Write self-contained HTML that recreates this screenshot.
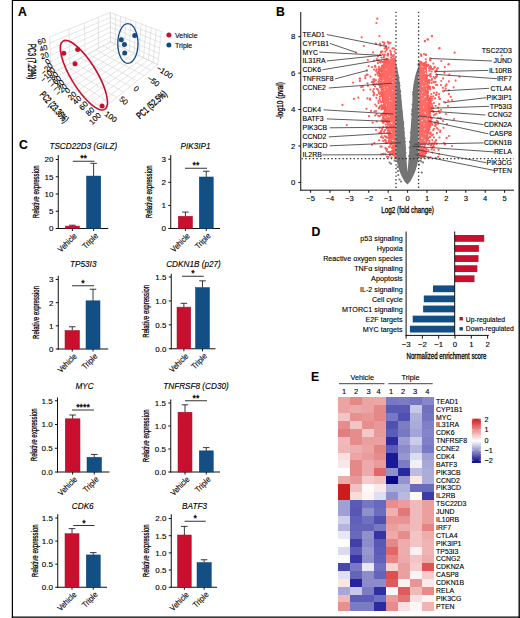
<!DOCTYPE html>
<html><head><meta charset="utf-8"><style>
html,body{margin:0;padding:0;background:#fff;}
svg{display:block;font-family:"Liberation Sans", sans-serif;}
text{stroke:#000;stroke-width:0.12px;}
</style></head><body>
<svg width="520" height="618" viewBox="0 0 520 618">
<path d="M12.4 0 V617.8 M11.8 0.4 H520" fill="none" stroke="#000" stroke-width="1.2"/>
<path d="M519.2 0 V618 M11.8 617.15 H520" fill="none" stroke="#000" stroke-width="1.35"/>
<text x="18.10" y="15.60" font-size="12.2" font-weight="bold">A</text>
<text x="276.00" y="15.70" font-size="12.2" font-weight="bold">B</text>
<text x="19.10" y="149.40" font-size="12.2" font-weight="bold">C</text>
<text x="311.60" y="235.70" font-size="12.2" font-weight="bold">D</text>
<text x="311.00" y="380.50" font-size="12.2" font-weight="bold">E</text>
<text x="83.30" y="148.70" font-size="8.2" text-anchor="middle" font-style="italic">TSCD22D3 (GILZ)</text>
<line x1="58.25" y1="155.00" x2="58.25" y2="229.00" stroke="#111" stroke-width="1"/>
<line x1="55.75" y1="228.50" x2="58.25" y2="228.50" stroke="#111" stroke-width="1"/>
<text x="53.45" y="231.35" font-size="8.0" text-anchor="end">0</text>
<line x1="55.75" y1="211.25" x2="58.25" y2="211.25" stroke="#111" stroke-width="1"/>
<text x="53.45" y="214.10" font-size="8.0" text-anchor="end">5</text>
<line x1="55.75" y1="194.00" x2="58.25" y2="194.00" stroke="#111" stroke-width="1"/>
<text x="53.45" y="196.85" font-size="8.0" text-anchor="end">10</text>
<line x1="55.75" y1="176.75" x2="58.25" y2="176.75" stroke="#111" stroke-width="1"/>
<text x="53.45" y="179.60" font-size="8.0" text-anchor="end">15</text>
<line x1="55.75" y1="159.50" x2="58.25" y2="159.50" stroke="#111" stroke-width="1"/>
<text x="53.45" y="162.35" font-size="8.0" text-anchor="end">20</text>
<line x1="57.75" y1="228.50" x2="108.25" y2="228.50" stroke="#111" stroke-width="1"/>
<line x1="72.38" y1="226.09" x2="72.38" y2="225.22" stroke="#222" stroke-width="0.9"/>
<line x1="69.08" y1="225.22" x2="75.67" y2="225.22" stroke="#222" stroke-width="0.9"/>
<rect x="65.25" y="226.09" width="14.25" height="2.41" fill="#c8102e" stroke="#a80d26" stroke-width="0.5"/>
<line x1="72.38" y1="228.50" x2="72.38" y2="231.00" stroke="#111" stroke-width="1"/>
<line x1="93.62" y1="176.06" x2="93.62" y2="163.30" stroke="#222" stroke-width="0.9"/>
<line x1="90.33" y1="163.30" x2="96.92" y2="163.30" stroke="#222" stroke-width="0.9"/>
<rect x="86.50" y="176.06" width="14.25" height="52.44" fill="#124f85" stroke="#0d4273" stroke-width="0.5"/>
<line x1="93.62" y1="228.50" x2="93.62" y2="231.00" stroke="#111" stroke-width="1"/>
<text x="77.38" y="236.40" font-size="8.2" text-anchor="end" textLength="23" lengthAdjust="spacingAndGlyphs" transform="rotate(-45 77.375 236.4)">Vehicle</text>
<text x="98.62" y="236.40" font-size="8.2" text-anchor="end" textLength="18.5" lengthAdjust="spacingAndGlyphs" transform="rotate(-45 98.625 236.4)">Triple</text>
<line x1="72.75" y1="161.25" x2="94.50" y2="161.25" stroke="#333" stroke-width="1"/>
<text x="83.62" y="161.45" font-size="8.8" text-anchor="middle" style="stroke-width:0.3px">**</text>
<text x="39.00" y="191.75" font-size="9.4" text-anchor="middle" textLength="53" lengthAdjust="spacingAndGlyphs" transform="rotate(-90 39.0 191.75)" style="stroke-width:0.25px">Relative expression</text>
<text x="195.50" y="148.75" font-size="8.2" text-anchor="middle" font-style="italic">PIK3IP1</text>
<line x1="170.75" y1="155.00" x2="170.75" y2="229.00" stroke="#111" stroke-width="1"/>
<line x1="168.25" y1="228.50" x2="170.75" y2="228.50" stroke="#111" stroke-width="1"/>
<text x="165.95" y="231.35" font-size="8.0" text-anchor="end">0</text>
<line x1="168.25" y1="205.40" x2="170.75" y2="205.40" stroke="#111" stroke-width="1"/>
<text x="165.95" y="208.25" font-size="8.0" text-anchor="end">1</text>
<line x1="168.25" y1="182.30" x2="170.75" y2="182.30" stroke="#111" stroke-width="1"/>
<text x="165.95" y="185.15" font-size="8.0" text-anchor="end">2</text>
<line x1="168.25" y1="159.20" x2="170.75" y2="159.20" stroke="#111" stroke-width="1"/>
<text x="165.95" y="162.05" font-size="8.0" text-anchor="end">3</text>
<line x1="170.25" y1="228.50" x2="220.00" y2="228.50" stroke="#111" stroke-width="1"/>
<line x1="185.38" y1="216.26" x2="185.38" y2="212.10" stroke="#222" stroke-width="0.9"/>
<line x1="182.07" y1="212.10" x2="188.68" y2="212.10" stroke="#222" stroke-width="0.9"/>
<rect x="178.25" y="216.26" width="14.25" height="12.24" fill="#c8102e" stroke="#a80d26" stroke-width="0.5"/>
<line x1="185.38" y1="228.50" x2="185.38" y2="231.00" stroke="#111" stroke-width="1"/>
<line x1="206.25" y1="176.99" x2="206.25" y2="171.21" stroke="#222" stroke-width="0.9"/>
<line x1="202.95" y1="171.21" x2="209.55" y2="171.21" stroke="#222" stroke-width="0.9"/>
<rect x="199.25" y="176.99" width="14.00" height="51.51" fill="#124f85" stroke="#0d4273" stroke-width="0.5"/>
<line x1="206.25" y1="228.50" x2="206.25" y2="231.00" stroke="#111" stroke-width="1"/>
<text x="190.38" y="236.40" font-size="8.2" text-anchor="end" textLength="23" lengthAdjust="spacingAndGlyphs" transform="rotate(-45 190.375 236.4)">Vehicle</text>
<text x="211.25" y="236.40" font-size="8.2" text-anchor="end" textLength="18.5" lengthAdjust="spacingAndGlyphs" transform="rotate(-45 211.25 236.4)">Triple</text>
<line x1="185.00" y1="168.25" x2="207.00" y2="168.25" stroke="#333" stroke-width="1"/>
<text x="196.00" y="168.45" font-size="8.8" text-anchor="middle" style="stroke-width:0.3px">**</text>
<text x="152.00" y="191.75" font-size="9.4" text-anchor="middle" textLength="53" lengthAdjust="spacingAndGlyphs" transform="rotate(-90 152.0 191.75)" style="stroke-width:0.25px">Relative expression</text>
<text x="83.25" y="267.00" font-size="8.2" text-anchor="middle" font-style="italic">TP53I3</text>
<line x1="58.25" y1="275.75" x2="58.25" y2="349.50" stroke="#111" stroke-width="1"/>
<line x1="55.75" y1="349.00" x2="58.25" y2="349.00" stroke="#111" stroke-width="1"/>
<text x="53.45" y="351.85" font-size="8.0" text-anchor="end">0</text>
<line x1="55.75" y1="325.83" x2="58.25" y2="325.83" stroke="#111" stroke-width="1"/>
<text x="53.45" y="328.68" font-size="8.0" text-anchor="end">1</text>
<line x1="55.75" y1="302.66" x2="58.25" y2="302.66" stroke="#111" stroke-width="1"/>
<text x="53.45" y="305.51" font-size="8.0" text-anchor="end">2</text>
<line x1="55.75" y1="279.49" x2="58.25" y2="279.49" stroke="#111" stroke-width="1"/>
<text x="53.45" y="282.34" font-size="8.0" text-anchor="end">3</text>
<line x1="57.75" y1="349.00" x2="108.25" y2="349.00" stroke="#111" stroke-width="1"/>
<line x1="72.25" y1="330.46" x2="72.25" y2="326.76" stroke="#222" stroke-width="0.9"/>
<line x1="68.95" y1="326.76" x2="75.55" y2="326.76" stroke="#222" stroke-width="0.9"/>
<rect x="65.00" y="330.46" width="14.50" height="18.54" fill="#c8102e" stroke="#a80d26" stroke-width="0.5"/>
<line x1="72.25" y1="349.00" x2="72.25" y2="351.50" stroke="#111" stroke-width="1"/>
<line x1="93.00" y1="300.81" x2="93.00" y2="289.22" stroke="#222" stroke-width="0.9"/>
<line x1="89.70" y1="289.22" x2="96.30" y2="289.22" stroke="#222" stroke-width="0.9"/>
<rect x="86.00" y="300.81" width="14.00" height="48.19" fill="#124f85" stroke="#0d4273" stroke-width="0.5"/>
<line x1="93.00" y1="349.00" x2="93.00" y2="351.50" stroke="#111" stroke-width="1"/>
<text x="77.25" y="356.90" font-size="8.2" text-anchor="end" textLength="23" lengthAdjust="spacingAndGlyphs" transform="rotate(-45 77.25 356.9)">Vehicle</text>
<text x="98.00" y="356.90" font-size="8.2" text-anchor="end" textLength="18.5" lengthAdjust="spacingAndGlyphs" transform="rotate(-45 98.0 356.9)">Triple</text>
<line x1="72.00" y1="285.75" x2="94.00" y2="285.75" stroke="#333" stroke-width="1"/>
<text x="83.00" y="285.95" font-size="8.8" text-anchor="middle" style="stroke-width:0.3px">*</text>
<text x="39.00" y="312.38" font-size="9.4" text-anchor="middle" textLength="53" lengthAdjust="spacingAndGlyphs" transform="rotate(-90 39.0 312.375)" style="stroke-width:0.25px">Relative expression</text>
<text x="193.50" y="267.00" font-size="8.2" text-anchor="middle" font-style="italic">CDKN1B (p27)</text>
<line x1="171.25" y1="273.75" x2="171.25" y2="349.25" stroke="#111" stroke-width="1"/>
<line x1="168.75" y1="348.75" x2="171.25" y2="348.75" stroke="#111" stroke-width="1"/>
<text x="166.45" y="351.60" font-size="8.0" text-anchor="end">0.0</text>
<line x1="168.75" y1="324.83" x2="171.25" y2="324.83" stroke="#111" stroke-width="1"/>
<text x="166.45" y="327.69" font-size="8.0" text-anchor="end">0.5</text>
<line x1="168.75" y1="300.92" x2="171.25" y2="300.92" stroke="#111" stroke-width="1"/>
<text x="166.45" y="303.77" font-size="8.0" text-anchor="end">1.0</text>
<line x1="168.75" y1="277.00" x2="171.25" y2="277.00" stroke="#111" stroke-width="1"/>
<text x="166.45" y="279.86" font-size="8.0" text-anchor="end">1.5</text>
<line x1="170.75" y1="348.75" x2="215.50" y2="348.75" stroke="#111" stroke-width="1"/>
<line x1="183.88" y1="307.14" x2="183.88" y2="303.31" stroke="#222" stroke-width="0.9"/>
<line x1="180.57" y1="303.31" x2="187.18" y2="303.31" stroke="#222" stroke-width="0.9"/>
<rect x="177.00" y="307.14" width="13.75" height="41.61" fill="#c8102e" stroke="#a80d26" stroke-width="0.5"/>
<line x1="183.88" y1="348.75" x2="183.88" y2="351.25" stroke="#111" stroke-width="1"/>
<line x1="202.50" y1="287.53" x2="202.50" y2="280.83" stroke="#222" stroke-width="0.9"/>
<line x1="199.20" y1="280.83" x2="205.80" y2="280.83" stroke="#222" stroke-width="0.9"/>
<rect x="195.50" y="287.53" width="14.00" height="61.22" fill="#124f85" stroke="#0d4273" stroke-width="0.5"/>
<line x1="202.50" y1="348.75" x2="202.50" y2="351.25" stroke="#111" stroke-width="1"/>
<text x="188.88" y="356.65" font-size="8.2" text-anchor="end" textLength="23" lengthAdjust="spacingAndGlyphs" transform="rotate(-45 188.875 356.65)">Vehicle</text>
<text x="207.50" y="356.65" font-size="8.2" text-anchor="end" textLength="18.5" lengthAdjust="spacingAndGlyphs" transform="rotate(-45 207.5 356.65)">Triple</text>
<line x1="182.00" y1="276.25" x2="203.75" y2="276.25" stroke="#333" stroke-width="1"/>
<text x="192.88" y="276.45" font-size="8.8" text-anchor="middle" style="stroke-width:0.3px">*</text>
<text x="148.80" y="311.25" font-size="9.4" text-anchor="middle" textLength="53" lengthAdjust="spacingAndGlyphs" transform="rotate(-90 148.79999999999998 311.25)" style="stroke-width:0.25px">Relative expression</text>
<text x="84.50" y="388.75" font-size="8.2" text-anchor="middle" font-style="italic">MYC</text>
<line x1="57.50" y1="397.50" x2="57.50" y2="472.50" stroke="#111" stroke-width="1"/>
<line x1="55.00" y1="472.00" x2="57.50" y2="472.00" stroke="#111" stroke-width="1"/>
<text x="52.70" y="474.85" font-size="8.0" text-anchor="end">0.0</text>
<line x1="55.00" y1="448.25" x2="57.50" y2="448.25" stroke="#111" stroke-width="1"/>
<text x="52.70" y="451.10" font-size="8.0" text-anchor="end">0.5</text>
<line x1="55.00" y1="424.50" x2="57.50" y2="424.50" stroke="#111" stroke-width="1"/>
<text x="52.70" y="427.35" font-size="8.0" text-anchor="end">1.0</text>
<line x1="55.00" y1="400.75" x2="57.50" y2="400.75" stroke="#111" stroke-width="1"/>
<text x="52.70" y="403.60" font-size="8.0" text-anchor="end">1.5</text>
<line x1="57.00" y1="472.00" x2="109.50" y2="472.00" stroke="#111" stroke-width="1"/>
<line x1="72.62" y1="418.80" x2="72.62" y2="415.00" stroke="#222" stroke-width="0.9"/>
<line x1="69.33" y1="415.00" x2="75.92" y2="415.00" stroke="#222" stroke-width="0.9"/>
<rect x="65.25" y="418.80" width="14.75" height="53.20" fill="#c8102e" stroke="#a80d26" stroke-width="0.5"/>
<line x1="72.62" y1="472.00" x2="72.62" y2="474.50" stroke="#111" stroke-width="1"/>
<line x1="94.25" y1="457.27" x2="94.25" y2="454.43" stroke="#222" stroke-width="0.9"/>
<line x1="90.95" y1="454.43" x2="97.55" y2="454.43" stroke="#222" stroke-width="0.9"/>
<rect x="87.00" y="457.27" width="14.50" height="14.73" fill="#124f85" stroke="#0d4273" stroke-width="0.5"/>
<line x1="94.25" y1="472.00" x2="94.25" y2="474.50" stroke="#111" stroke-width="1"/>
<text x="77.62" y="479.90" font-size="8.2" text-anchor="end" textLength="23" lengthAdjust="spacingAndGlyphs" transform="rotate(-45 77.625 479.9)">Vehicle</text>
<text x="99.25" y="479.90" font-size="8.2" text-anchor="end" textLength="18.5" lengthAdjust="spacingAndGlyphs" transform="rotate(-45 99.25 479.9)">Triple</text>
<line x1="72.00" y1="410.00" x2="94.00" y2="410.00" stroke="#333" stroke-width="1"/>
<text x="83.00" y="410.20" font-size="8.8" text-anchor="middle" style="stroke-width:0.3px">****</text>
<text x="37.20" y="434.75" font-size="9.4" text-anchor="middle" textLength="53" lengthAdjust="spacingAndGlyphs" transform="rotate(-90 37.2 434.75)" style="stroke-width:0.25px">Relative expression</text>
<text x="196.00" y="388.75" font-size="8.2" text-anchor="middle" font-style="italic">TNFRSF8 (CD30)</text>
<line x1="170.75" y1="399.50" x2="170.75" y2="472.50" stroke="#111" stroke-width="1"/>
<line x1="168.25" y1="472.00" x2="170.75" y2="472.00" stroke="#111" stroke-width="1"/>
<text x="165.95" y="474.85" font-size="8.0" text-anchor="end">0.0</text>
<line x1="168.25" y1="449.00" x2="170.75" y2="449.00" stroke="#111" stroke-width="1"/>
<text x="165.95" y="451.85" font-size="8.0" text-anchor="end">0.5</text>
<line x1="168.25" y1="426.00" x2="170.75" y2="426.00" stroke="#111" stroke-width="1"/>
<text x="165.95" y="428.85" font-size="8.0" text-anchor="end">1.0</text>
<line x1="168.25" y1="403.00" x2="170.75" y2="403.00" stroke="#111" stroke-width="1"/>
<text x="165.95" y="405.85" font-size="8.0" text-anchor="end">1.5</text>
<line x1="170.25" y1="472.00" x2="220.00" y2="472.00" stroke="#111" stroke-width="1"/>
<line x1="185.00" y1="412.20" x2="185.00" y2="404.84" stroke="#222" stroke-width="0.9"/>
<line x1="181.70" y1="404.84" x2="188.30" y2="404.84" stroke="#222" stroke-width="0.9"/>
<rect x="178.00" y="412.20" width="14.00" height="59.80" fill="#c8102e" stroke="#a80d26" stroke-width="0.5"/>
<line x1="185.00" y1="472.00" x2="185.00" y2="474.50" stroke="#111" stroke-width="1"/>
<line x1="206.25" y1="450.84" x2="206.25" y2="447.62" stroke="#222" stroke-width="0.9"/>
<line x1="202.95" y1="447.62" x2="209.55" y2="447.62" stroke="#222" stroke-width="0.9"/>
<rect x="199.25" y="450.84" width="14.00" height="21.16" fill="#124f85" stroke="#0d4273" stroke-width="0.5"/>
<line x1="206.25" y1="472.00" x2="206.25" y2="474.50" stroke="#111" stroke-width="1"/>
<text x="190.00" y="479.90" font-size="8.2" text-anchor="end" textLength="23" lengthAdjust="spacingAndGlyphs" transform="rotate(-45 190.0 479.9)">Vehicle</text>
<text x="211.25" y="479.90" font-size="8.2" text-anchor="end" textLength="18.5" lengthAdjust="spacingAndGlyphs" transform="rotate(-45 211.25 479.9)">Triple</text>
<line x1="185.00" y1="400.75" x2="207.00" y2="400.75" stroke="#333" stroke-width="1"/>
<text x="196.00" y="400.95" font-size="8.8" text-anchor="middle" style="stroke-width:0.3px">**</text>
<text x="148.80" y="435.75" font-size="9.4" text-anchor="middle" textLength="53" lengthAdjust="spacingAndGlyphs" transform="rotate(-90 148.79999999999998 435.75)" style="stroke-width:0.25px">Relative expression</text>
<text x="82.75" y="509.25" font-size="8.2" text-anchor="middle" font-style="italic">CDK6</text>
<line x1="57.75" y1="514.25" x2="57.75" y2="587.75" stroke="#111" stroke-width="1"/>
<line x1="55.25" y1="587.25" x2="57.75" y2="587.25" stroke="#111" stroke-width="1"/>
<text x="52.95" y="590.10" font-size="8.0" text-anchor="end">0.0</text>
<line x1="55.25" y1="564.16" x2="57.75" y2="564.16" stroke="#111" stroke-width="1"/>
<text x="52.95" y="567.01" font-size="8.0" text-anchor="end">0.5</text>
<line x1="55.25" y1="541.08" x2="57.75" y2="541.08" stroke="#111" stroke-width="1"/>
<text x="52.95" y="543.93" font-size="8.0" text-anchor="end">1.0</text>
<line x1="55.25" y1="518.00" x2="57.75" y2="518.00" stroke="#111" stroke-width="1"/>
<text x="52.95" y="520.85" font-size="8.0" text-anchor="end">1.5</text>
<line x1="57.25" y1="587.25" x2="107.00" y2="587.25" stroke="#111" stroke-width="1"/>
<line x1="72.00" y1="533.69" x2="72.00" y2="528.61" stroke="#222" stroke-width="0.9"/>
<line x1="68.70" y1="528.61" x2="75.30" y2="528.61" stroke="#222" stroke-width="0.9"/>
<rect x="65.00" y="533.69" width="14.00" height="53.56" fill="#c8102e" stroke="#a80d26" stroke-width="0.5"/>
<line x1="72.00" y1="587.25" x2="72.00" y2="589.75" stroke="#111" stroke-width="1"/>
<line x1="93.25" y1="554.93" x2="93.25" y2="552.62" stroke="#222" stroke-width="0.9"/>
<line x1="89.95" y1="552.62" x2="96.55" y2="552.62" stroke="#222" stroke-width="0.9"/>
<rect x="86.25" y="554.93" width="14.00" height="32.32" fill="#124f85" stroke="#0d4273" stroke-width="0.5"/>
<line x1="93.25" y1="587.25" x2="93.25" y2="589.75" stroke="#111" stroke-width="1"/>
<text x="77.00" y="595.15" font-size="8.2" text-anchor="end" textLength="23" lengthAdjust="spacingAndGlyphs" transform="rotate(-45 77.0 595.15)">Vehicle</text>
<text x="98.25" y="595.15" font-size="8.2" text-anchor="end" textLength="18.5" lengthAdjust="spacingAndGlyphs" transform="rotate(-45 98.25 595.15)">Triple</text>
<line x1="73.25" y1="525.50" x2="94.50" y2="525.50" stroke="#333" stroke-width="1"/>
<text x="83.88" y="525.70" font-size="8.8" text-anchor="middle" style="stroke-width:0.3px">*</text>
<text x="37.50" y="550.75" font-size="9.4" text-anchor="middle" textLength="53" lengthAdjust="spacingAndGlyphs" transform="rotate(-90 37.5 550.75)" style="stroke-width:0.25px">Relative expression</text>
<text x="194.50" y="509.25" font-size="8.2" text-anchor="middle" font-style="italic">BATF3</text>
<line x1="171.25" y1="514.25" x2="171.25" y2="587.75" stroke="#111" stroke-width="1"/>
<line x1="168.75" y1="587.25" x2="171.25" y2="587.25" stroke="#111" stroke-width="1"/>
<text x="166.45" y="590.10" font-size="8.0" text-anchor="end">0.0</text>
<line x1="168.75" y1="570.06" x2="171.25" y2="570.06" stroke="#111" stroke-width="1"/>
<text x="166.45" y="572.91" font-size="8.0" text-anchor="end">0.5</text>
<line x1="168.75" y1="552.88" x2="171.25" y2="552.88" stroke="#111" stroke-width="1"/>
<text x="166.45" y="555.73" font-size="8.0" text-anchor="end">1.0</text>
<line x1="168.75" y1="535.69" x2="171.25" y2="535.69" stroke="#111" stroke-width="1"/>
<text x="166.45" y="538.54" font-size="8.0" text-anchor="end">1.5</text>
<line x1="168.75" y1="518.50" x2="171.25" y2="518.50" stroke="#111" stroke-width="1"/>
<text x="166.45" y="521.35" font-size="8.0" text-anchor="end">2.0</text>
<line x1="170.75" y1="587.25" x2="217.00" y2="587.25" stroke="#111" stroke-width="1"/>
<line x1="184.38" y1="535.00" x2="184.38" y2="526.41" stroke="#222" stroke-width="0.9"/>
<line x1="181.07" y1="526.41" x2="187.68" y2="526.41" stroke="#222" stroke-width="0.9"/>
<rect x="177.50" y="535.00" width="13.75" height="52.25" fill="#c8102e" stroke="#a80d26" stroke-width="0.5"/>
<line x1="184.38" y1="587.25" x2="184.38" y2="589.75" stroke="#111" stroke-width="1"/>
<line x1="204.12" y1="562.50" x2="204.12" y2="559.75" stroke="#222" stroke-width="0.9"/>
<line x1="200.82" y1="559.75" x2="207.43" y2="559.75" stroke="#222" stroke-width="0.9"/>
<rect x="197.00" y="562.50" width="14.25" height="24.75" fill="#124f85" stroke="#0d4273" stroke-width="0.5"/>
<line x1="204.12" y1="587.25" x2="204.12" y2="589.75" stroke="#111" stroke-width="1"/>
<text x="189.38" y="595.15" font-size="8.2" text-anchor="end" textLength="23" lengthAdjust="spacingAndGlyphs" transform="rotate(-45 189.375 595.15)">Vehicle</text>
<text x="209.12" y="595.15" font-size="8.2" text-anchor="end" textLength="18.5" lengthAdjust="spacingAndGlyphs" transform="rotate(-45 209.125 595.15)">Triple</text>
<line x1="184.50" y1="521.25" x2="205.75" y2="521.25" stroke="#333" stroke-width="1"/>
<text x="195.12" y="521.45" font-size="8.8" text-anchor="middle" style="stroke-width:0.3px">*</text>
<text x="148.80" y="550.75" font-size="9.4" text-anchor="middle" textLength="53" lengthAdjust="spacingAndGlyphs" transform="rotate(-90 148.79999999999998 550.75)" style="stroke-width:0.25px">Relative expression</text>
<rect x="454.70" y="235.00" width="29.50" height="6.80" fill="#c8102e"/>
<text x="402.70" y="241.10" font-size="7.2" text-anchor="end">p53 signaling</text>
<rect x="454.70" y="245.08" width="24.20" height="6.80" fill="#c8102e"/>
<text x="402.70" y="251.18" font-size="7.2" text-anchor="end">Hypoxia</text>
<rect x="454.70" y="255.16" width="23.80" height="6.80" fill="#c8102e"/>
<text x="402.70" y="261.26" font-size="7.2" text-anchor="end">Reactive oxygen species</text>
<rect x="454.70" y="265.24" width="22.60" height="6.80" fill="#c8102e"/>
<text x="402.70" y="271.34" font-size="7.2" text-anchor="end">TNFα signaling</text>
<rect x="454.70" y="275.32" width="19.80" height="6.80" fill="#c8102e"/>
<text x="402.70" y="281.42" font-size="7.2" text-anchor="end">Apoptosis</text>
<rect x="433.00" y="285.40" width="21.70" height="6.80" fill="#124f85"/>
<text x="402.70" y="291.50" font-size="7.2" text-anchor="end">IL-2 signaling</text>
<rect x="423.80" y="295.48" width="30.90" height="6.80" fill="#124f85"/>
<text x="402.70" y="301.58" font-size="7.2" text-anchor="end">Cell cycle</text>
<rect x="423.10" y="305.56" width="31.60" height="6.80" fill="#124f85"/>
<text x="402.70" y="311.66" font-size="7.2" text-anchor="end">MTORC1 signaling</text>
<rect x="412.70" y="315.64" width="42.00" height="6.80" fill="#124f85"/>
<text x="402.70" y="321.74" font-size="7.2" text-anchor="end">E2F targets</text>
<rect x="409.90" y="325.72" width="44.80" height="6.80" fill="#124f85"/>
<text x="402.70" y="331.82" font-size="7.2" text-anchor="end">MYC targets</text>
<line x1="406.10" y1="231.50" x2="406.10" y2="335.90" stroke="#111" stroke-width="1"/>
<line x1="454.70" y1="231.50" x2="454.70" y2="335.90" stroke="#111" stroke-width="1"/>
<line x1="405.60" y1="335.40" x2="488.80" y2="335.40" stroke="#111" stroke-width="1"/>
<line x1="406.10" y1="335.40" x2="406.10" y2="338.60" stroke="#111" stroke-width="1"/>
<text x="406.10" y="346.90" font-size="7.8" text-anchor="middle">−3</text>
<line x1="422.40" y1="335.40" x2="422.40" y2="338.60" stroke="#111" stroke-width="1"/>
<text x="422.40" y="346.90" font-size="7.8" text-anchor="middle">−2</text>
<line x1="438.70" y1="335.40" x2="438.70" y2="338.60" stroke="#111" stroke-width="1"/>
<text x="438.70" y="346.90" font-size="7.8" text-anchor="middle">−1</text>
<line x1="455.00" y1="335.40" x2="455.00" y2="338.60" stroke="#111" stroke-width="1"/>
<text x="455.00" y="346.90" font-size="7.8" text-anchor="middle">0</text>
<line x1="471.30" y1="335.40" x2="471.30" y2="338.60" stroke="#111" stroke-width="1"/>
<text x="471.30" y="346.90" font-size="7.8" text-anchor="middle">1</text>
<line x1="487.60" y1="335.40" x2="487.60" y2="338.60" stroke="#111" stroke-width="1"/>
<text x="487.60" y="346.90" font-size="7.8" text-anchor="middle">2</text>
<text x="446.50" y="358.60" font-size="8.8" text-anchor="middle" textLength="80" lengthAdjust="spacingAndGlyphs" style="stroke-width:0.3px">Normalized enrichment score</text>
<rect x="459.50" y="317.00" width="3.40" height="3.40" fill="#c8102e"/>
<rect x="459.50" y="327.10" width="3.40" height="3.40" fill="#124f85"/>
<text x="465.80" y="321.50" font-size="6.8">Up-regulated</text>
<text x="465.80" y="331.40" font-size="6.8">Down-regulated</text>
<g shape-rendering="crispEdges">
<rect x="338.00" y="397.400" width="12.30" height="8.185" fill="#eba4a4"/>
<rect x="350.00" y="397.400" width="12.30" height="8.185" fill="#e58888"/>
<rect x="362.00" y="397.400" width="12.30" height="8.185" fill="#eba4a4"/>
<rect x="374.00" y="397.400" width="12.30" height="8.185" fill="#eca6a6"/>
<rect x="386.00" y="397.400" width="12.30" height="8.185" fill="#7878c4"/>
<rect x="398.00" y="397.400" width="12.30" height="8.185" fill="#7c7cc4"/>
<rect x="410.00" y="397.400" width="12.30" height="8.185" fill="#7474c0"/>
<rect x="422.00" y="397.400" width="12.30" height="8.185" fill="#8686c8"/>
<rect x="338.00" y="405.285" width="12.30" height="8.185" fill="#eba3a3"/>
<rect x="350.00" y="405.285" width="12.30" height="8.185" fill="#edaaaa"/>
<rect x="362.00" y="405.285" width="12.30" height="8.185" fill="#eba3a3"/>
<rect x="374.00" y="405.285" width="12.30" height="8.185" fill="#e48888"/>
<rect x="386.00" y="405.285" width="12.30" height="8.185" fill="#5a5ab4"/>
<rect x="398.00" y="405.285" width="12.30" height="8.185" fill="#5a5ab4"/>
<rect x="410.00" y="405.285" width="12.30" height="8.185" fill="#c8c8e6"/>
<rect x="422.00" y="405.285" width="12.30" height="8.185" fill="#7070c0"/>
<rect x="338.00" y="413.170" width="12.30" height="8.185" fill="#f2c4c4"/>
<rect x="350.00" y="413.170" width="12.30" height="8.185" fill="#e69090"/>
<rect x="362.00" y="413.170" width="12.30" height="8.185" fill="#e89898"/>
<rect x="374.00" y="413.170" width="12.30" height="8.185" fill="#e48888"/>
<rect x="386.00" y="413.170" width="12.30" height="8.185" fill="#7878c4"/>
<rect x="398.00" y="413.170" width="12.30" height="8.185" fill="#5050b0"/>
<rect x="410.00" y="413.170" width="12.30" height="8.185" fill="#b0b0dc"/>
<rect x="422.00" y="413.170" width="12.30" height="8.185" fill="#7474c0"/>
<rect x="338.00" y="421.055" width="12.30" height="8.185" fill="#e68e8e"/>
<rect x="350.00" y="421.055" width="12.30" height="8.185" fill="#f2c4c4"/>
<rect x="362.00" y="421.055" width="12.30" height="8.185" fill="#e68e8e"/>
<rect x="374.00" y="421.055" width="12.30" height="8.185" fill="#e89898"/>
<rect x="386.00" y="421.055" width="12.30" height="8.185" fill="#5050b0"/>
<rect x="398.00" y="421.055" width="12.30" height="8.185" fill="#7c7cc4"/>
<rect x="410.00" y="421.055" width="12.30" height="8.185" fill="#acacdc"/>
<rect x="422.00" y="421.055" width="12.30" height="8.185" fill="#8080c8"/>
<rect x="338.00" y="428.940" width="12.30" height="8.185" fill="#e27e7e"/>
<rect x="350.00" y="428.940" width="12.30" height="8.185" fill="#e68c8c"/>
<rect x="362.00" y="428.940" width="12.30" height="8.185" fill="#f2c8c8"/>
<rect x="374.00" y="428.940" width="12.30" height="8.185" fill="#e89a9a"/>
<rect x="386.00" y="428.940" width="12.30" height="8.185" fill="#5c5cb8"/>
<rect x="398.00" y="428.940" width="12.30" height="8.185" fill="#7878c0"/>
<rect x="410.00" y="428.940" width="12.30" height="8.185" fill="#a4a4d8"/>
<rect x="422.00" y="428.940" width="12.30" height="8.185" fill="#8484c8"/>
<rect x="338.00" y="436.825" width="12.30" height="8.185" fill="#f0b8b8"/>
<rect x="350.00" y="436.825" width="12.30" height="8.185" fill="#e58c8c"/>
<rect x="362.00" y="436.825" width="12.30" height="8.185" fill="#eaa0a0"/>
<rect x="374.00" y="436.825" width="12.30" height="8.185" fill="#eaa0a0"/>
<rect x="386.00" y="436.825" width="12.30" height="8.185" fill="#2c2ca0"/>
<rect x="398.00" y="436.825" width="12.30" height="8.185" fill="#9c9cd4"/>
<rect x="410.00" y="436.825" width="12.30" height="8.185" fill="#ccccea"/>
<rect x="422.00" y="436.825" width="12.30" height="8.185" fill="#8080c8"/>
<rect x="338.00" y="444.710" width="12.30" height="8.185" fill="#f0b5b5"/>
<rect x="350.00" y="444.710" width="12.30" height="8.185" fill="#edaeae"/>
<rect x="362.00" y="444.710" width="12.30" height="8.185" fill="#eba4a4"/>
<rect x="374.00" y="444.710" width="12.30" height="8.185" fill="#e48585"/>
<rect x="386.00" y="444.710" width="12.30" height="8.185" fill="#5a5ab8"/>
<rect x="398.00" y="444.710" width="12.30" height="8.185" fill="#8c8ccc"/>
<rect x="410.00" y="444.710" width="12.30" height="8.185" fill="#b4b4dc"/>
<rect x="422.00" y="444.710" width="12.30" height="8.185" fill="#7878c4"/>
<rect x="338.00" y="452.595" width="12.30" height="8.185" fill="#f8e0e0"/>
<rect x="350.00" y="452.595" width="12.30" height="8.185" fill="#eca4a4"/>
<rect x="362.00" y="452.595" width="12.30" height="8.185" fill="#e99c9c"/>
<rect x="374.00" y="452.595" width="12.30" height="8.185" fill="#e58c8c"/>
<rect x="386.00" y="452.595" width="12.30" height="8.185" fill="#1a1a98"/>
<rect x="398.00" y="452.595" width="12.30" height="8.185" fill="#9898d0"/>
<rect x="410.00" y="452.595" width="12.30" height="8.185" fill="#dcdcf0"/>
<rect x="422.00" y="452.595" width="12.30" height="8.185" fill="#a0a0d4"/>
<rect x="338.00" y="460.480" width="12.30" height="8.185" fill="#fae8e8"/>
<rect x="350.00" y="460.480" width="12.30" height="8.185" fill="#e48888"/>
<rect x="362.00" y="460.480" width="12.30" height="8.185" fill="#eeaaaa"/>
<rect x="374.00" y="460.480" width="12.30" height="8.185" fill="#e99c9c"/>
<rect x="386.00" y="460.480" width="12.30" height="8.185" fill="#1a1a98"/>
<rect x="398.00" y="460.480" width="12.30" height="8.185" fill="#7c7cc4"/>
<rect x="410.00" y="460.480" width="12.30" height="8.185" fill="#f0f0f8"/>
<rect x="422.00" y="460.480" width="12.30" height="8.185" fill="#a8a8d8"/>
<rect x="338.00" y="468.365" width="12.30" height="8.185" fill="#ffffff"/>
<rect x="350.00" y="468.365" width="12.30" height="8.185" fill="#e48888"/>
<rect x="362.00" y="468.365" width="12.30" height="8.185" fill="#eeaaaa"/>
<rect x="374.00" y="468.365" width="12.30" height="8.185" fill="#e06868"/>
<rect x="386.00" y="468.365" width="12.30" height="8.185" fill="#9090cc"/>
<rect x="398.00" y="468.365" width="12.30" height="8.185" fill="#2828a0"/>
<rect x="410.00" y="468.365" width="12.30" height="8.185" fill="#bcbce0"/>
<rect x="422.00" y="468.365" width="12.30" height="8.185" fill="#acacd8"/>
<rect x="338.00" y="476.250" width="12.30" height="8.185" fill="#ecaaaa"/>
<rect x="350.00" y="476.250" width="12.30" height="8.185" fill="#e89a9a"/>
<rect x="362.00" y="476.250" width="12.30" height="8.185" fill="#f4caca"/>
<rect x="374.00" y="476.250" width="12.30" height="8.185" fill="#f2c0c0"/>
<rect x="386.00" y="476.250" width="12.30" height="8.185" fill="#080888"/>
<rect x="398.00" y="476.250" width="12.30" height="8.185" fill="#9494cc"/>
<rect x="410.00" y="476.250" width="12.30" height="8.185" fill="#fce8e0"/>
<rect x="422.00" y="476.250" width="12.30" height="8.185" fill="#acacd8"/>
<rect x="338.00" y="484.135" width="12.30" height="8.185" fill="#cc1c1c"/>
<rect x="350.00" y="484.135" width="12.30" height="8.185" fill="#f2c0c0"/>
<rect x="362.00" y="484.135" width="12.30" height="8.185" fill="#fffafa"/>
<rect x="374.00" y="484.135" width="12.30" height="8.185" fill="#fce8e8"/>
<rect x="386.00" y="484.135" width="12.30" height="8.185" fill="#b0b0dc"/>
<rect x="398.00" y="484.135" width="12.30" height="8.185" fill="#b0b0dc"/>
<rect x="410.00" y="484.135" width="12.30" height="8.185" fill="#6a6abc"/>
<rect x="422.00" y="484.135" width="12.30" height="8.185" fill="#6a6abc"/>
<rect x="338.00" y="492.020" width="12.30" height="8.185" fill="#cc1c1c"/>
<rect x="350.00" y="492.020" width="12.30" height="8.185" fill="#f8dcdc"/>
<rect x="362.00" y="492.020" width="12.30" height="8.185" fill="#fff4f4"/>
<rect x="374.00" y="492.020" width="12.30" height="8.185" fill="#dcdff2"/>
<rect x="386.00" y="492.020" width="12.30" height="8.185" fill="#9090cc"/>
<rect x="398.00" y="492.020" width="12.30" height="8.185" fill="#b8b8e0"/>
<rect x="410.00" y="492.020" width="12.30" height="8.185" fill="#fffafa"/>
<rect x="422.00" y="492.020" width="12.30" height="8.185" fill="#3a3aa8"/>
<rect x="338.00" y="499.905" width="12.30" height="8.185" fill="#a0a0d4"/>
<rect x="350.00" y="499.905" width="12.30" height="8.185" fill="#5a5ab8"/>
<rect x="362.00" y="499.905" width="12.30" height="8.185" fill="#7676c2"/>
<rect x="374.00" y="499.905" width="12.30" height="8.185" fill="#6868bc"/>
<rect x="386.00" y="499.905" width="12.30" height="8.185" fill="#e88e8e"/>
<rect x="398.00" y="499.905" width="12.30" height="8.185" fill="#eb9c9c"/>
<rect x="410.00" y="499.905" width="12.30" height="8.185" fill="#f0baba"/>
<rect x="422.00" y="499.905" width="12.30" height="8.185" fill="#eba0a0"/>
<rect x="338.00" y="507.790" width="12.30" height="8.185" fill="#a0a0d4"/>
<rect x="350.00" y="507.790" width="12.30" height="8.185" fill="#5858b4"/>
<rect x="362.00" y="507.790" width="12.30" height="8.185" fill="#9090cc"/>
<rect x="374.00" y="507.790" width="12.30" height="8.185" fill="#6c6cbc"/>
<rect x="386.00" y="507.790" width="12.30" height="8.185" fill="#eeb0b0"/>
<rect x="398.00" y="507.790" width="12.30" height="8.185" fill="#e27878"/>
<rect x="410.00" y="507.790" width="12.30" height="8.185" fill="#f0baba"/>
<rect x="422.00" y="507.790" width="12.30" height="8.185" fill="#eaa0a0"/>
<rect x="338.00" y="515.675" width="12.30" height="8.185" fill="#d0d0ea"/>
<rect x="350.00" y="515.675" width="12.30" height="8.185" fill="#6060b8"/>
<rect x="362.00" y="515.675" width="12.30" height="8.185" fill="#7070c0"/>
<rect x="374.00" y="515.675" width="12.30" height="8.185" fill="#5050b0"/>
<rect x="386.00" y="515.675" width="12.30" height="8.185" fill="#e89494"/>
<rect x="398.00" y="515.675" width="12.30" height="8.185" fill="#e89494"/>
<rect x="410.00" y="515.675" width="12.30" height="8.185" fill="#f0baba"/>
<rect x="422.00" y="515.675" width="12.30" height="8.185" fill="#eba0a0"/>
<rect x="338.00" y="523.560" width="12.30" height="8.185" fill="#b4b4dc"/>
<rect x="350.00" y="523.560" width="12.30" height="8.185" fill="#6464b8"/>
<rect x="362.00" y="523.560" width="12.30" height="8.185" fill="#6464b8"/>
<rect x="374.00" y="523.560" width="12.30" height="8.185" fill="#7878c4"/>
<rect x="386.00" y="523.560" width="12.30" height="8.185" fill="#eba0a0"/>
<rect x="398.00" y="523.560" width="12.30" height="8.185" fill="#eeacac"/>
<rect x="410.00" y="523.560" width="12.30" height="8.185" fill="#f0baba"/>
<rect x="422.00" y="523.560" width="12.30" height="8.185" fill="#e48484"/>
<rect x="338.00" y="531.445" width="12.30" height="8.185" fill="#e8e8f4"/>
<rect x="350.00" y="531.445" width="12.30" height="8.185" fill="#6868bc"/>
<rect x="362.00" y="531.445" width="12.30" height="8.185" fill="#9090cc"/>
<rect x="374.00" y="531.445" width="12.30" height="8.185" fill="#3434a4"/>
<rect x="386.00" y="531.445" width="12.30" height="8.185" fill="#eeaaaa"/>
<rect x="398.00" y="531.445" width="12.30" height="8.185" fill="#e68c8c"/>
<rect x="410.00" y="531.445" width="12.30" height="8.185" fill="#f2c4c4"/>
<rect x="422.00" y="531.445" width="12.30" height="8.185" fill="#eeacac"/>
<rect x="338.00" y="539.330" width="12.30" height="8.185" fill="#fefefe"/>
<rect x="350.00" y="539.330" width="12.30" height="8.185" fill="#4040a8"/>
<rect x="362.00" y="539.330" width="12.30" height="8.185" fill="#8c8ccc"/>
<rect x="374.00" y="539.330" width="12.30" height="8.185" fill="#5858b4"/>
<rect x="386.00" y="539.330" width="12.30" height="8.185" fill="#e48888"/>
<rect x="398.00" y="539.330" width="12.30" height="8.185" fill="#eeacac"/>
<rect x="410.00" y="539.330" width="12.30" height="8.185" fill="#f2c4c4"/>
<rect x="422.00" y="539.330" width="12.30" height="8.185" fill="#f0b4b4"/>
<rect x="338.00" y="547.215" width="12.30" height="8.185" fill="#dadaf0"/>
<rect x="350.00" y="547.215" width="12.30" height="8.185" fill="#5c5cb8"/>
<rect x="362.00" y="547.215" width="12.30" height="8.185" fill="#9898d0"/>
<rect x="374.00" y="547.215" width="12.30" height="8.185" fill="#5c5cb8"/>
<rect x="386.00" y="547.215" width="12.30" height="8.185" fill="#e06868"/>
<rect x="398.00" y="547.215" width="12.30" height="8.185" fill="#eeacac"/>
<rect x="410.00" y="547.215" width="12.30" height="8.185" fill="#fcf0f0"/>
<rect x="422.00" y="547.215" width="12.30" height="8.185" fill="#f0b4b4"/>
<rect x="338.00" y="555.100" width="12.30" height="8.185" fill="#fafafe"/>
<rect x="350.00" y="555.100" width="12.30" height="8.185" fill="#3636a6"/>
<rect x="362.00" y="555.100" width="12.30" height="8.185" fill="#9090cc"/>
<rect x="374.00" y="555.100" width="12.30" height="8.185" fill="#6060b8"/>
<rect x="386.00" y="555.100" width="12.30" height="8.185" fill="#e68484"/>
<rect x="398.00" y="555.100" width="12.30" height="8.185" fill="#eeaaaa"/>
<rect x="410.00" y="555.100" width="12.30" height="8.185" fill="#f2c4c4"/>
<rect x="422.00" y="555.100" width="12.30" height="8.185" fill="#eeacac"/>
<rect x="338.00" y="562.985" width="12.30" height="8.185" fill="#4848ac"/>
<rect x="350.00" y="562.985" width="12.30" height="8.185" fill="#7878c4"/>
<rect x="362.00" y="562.985" width="12.30" height="8.185" fill="#e8e8f4"/>
<rect x="374.00" y="562.985" width="12.30" height="8.185" fill="#7070c0"/>
<rect x="386.00" y="562.985" width="12.30" height="8.185" fill="#f6d4d4"/>
<rect x="398.00" y="562.985" width="12.30" height="8.185" fill="#eba0a0"/>
<rect x="410.00" y="562.985" width="12.30" height="8.185" fill="#f4cccc"/>
<rect x="422.00" y="562.985" width="12.30" height="8.185" fill="#dc5454"/>
<rect x="338.00" y="570.870" width="12.30" height="8.185" fill="#e0e0f2"/>
<rect x="350.00" y="570.870" width="12.30" height="8.185" fill="#6464b8"/>
<rect x="362.00" y="570.870" width="12.30" height="8.185" fill="#8c8ccc"/>
<rect x="374.00" y="570.870" width="12.30" height="8.185" fill="#6464b8"/>
<rect x="386.00" y="570.870" width="12.30" height="8.185" fill="#dc5050"/>
<rect x="398.00" y="570.870" width="12.30" height="8.185" fill="#eba0a0"/>
<rect x="410.00" y="570.870" width="12.30" height="8.185" fill="#fcf4f4"/>
<rect x="422.00" y="570.870" width="12.30" height="8.185" fill="#f4cccc"/>
<rect x="338.00" y="578.755" width="12.30" height="8.185" fill="#fce6e0"/>
<rect x="350.00" y="578.755" width="12.30" height="8.185" fill="#2424a0"/>
<rect x="362.00" y="578.755" width="12.30" height="8.185" fill="#8c8ccc"/>
<rect x="374.00" y="578.755" width="12.30" height="8.185" fill="#8c8ccc"/>
<rect x="386.00" y="578.755" width="12.30" height="8.185" fill="#de5c5c"/>
<rect x="398.00" y="578.755" width="12.30" height="8.185" fill="#fcf0f0"/>
<rect x="410.00" y="578.755" width="12.30" height="8.185" fill="#e89494"/>
<rect x="422.00" y="578.755" width="12.30" height="8.185" fill="#fceaea"/>
<rect x="338.00" y="586.640" width="12.30" height="8.185" fill="#a8a8d8"/>
<rect x="350.00" y="586.640" width="12.30" height="8.185" fill="#c8c8e6"/>
<rect x="362.00" y="586.640" width="12.30" height="8.185" fill="#7c7cc4"/>
<rect x="374.00" y="586.640" width="12.30" height="8.185" fill="#3030a4"/>
<rect x="386.00" y="586.640" width="12.30" height="8.185" fill="#f8f8fe"/>
<rect x="398.00" y="586.640" width="12.30" height="8.185" fill="#de5c5c"/>
<rect x="410.00" y="586.640" width="12.30" height="8.185" fill="#f0baba"/>
<rect x="422.00" y="586.640" width="12.30" height="8.185" fill="#e68a8a"/>
<rect x="338.00" y="594.525" width="12.30" height="8.185" fill="#f0b8b8"/>
<rect x="350.00" y="594.525" width="12.30" height="8.185" fill="#5c5cb8"/>
<rect x="362.00" y="594.525" width="12.30" height="8.185" fill="#5c5cb8"/>
<rect x="374.00" y="594.525" width="12.30" height="8.185" fill="#7070c0"/>
<rect x="386.00" y="594.525" width="12.30" height="8.185" fill="#ea9c9c"/>
<rect x="398.00" y="594.525" width="12.30" height="8.185" fill="#e27474"/>
<rect x="410.00" y="594.525" width="12.30" height="8.185" fill="#f8e0e0"/>
<rect x="422.00" y="594.525" width="12.30" height="8.185" fill="#fcf4f4"/>
<rect x="338.00" y="602.410" width="12.30" height="8.185" fill="#e89090"/>
<rect x="350.00" y="602.410" width="12.30" height="8.185" fill="#7c7cc4"/>
<rect x="362.00" y="602.410" width="12.30" height="8.185" fill="#7c7cc4"/>
<rect x="374.00" y="602.410" width="12.30" height="8.185" fill="#2c2ca0"/>
<rect x="386.00" y="602.410" width="12.30" height="8.185" fill="#e68c8c"/>
<rect x="398.00" y="602.410" width="12.30" height="8.185" fill="#f8e0e0"/>
<rect x="410.00" y="602.410" width="12.30" height="8.185" fill="#fcf6f6"/>
<rect x="422.00" y="602.410" width="12.30" height="8.185" fill="#f0b4b4"/>
</g>
<text x="436.10" y="403.74" font-size="6.9">TEAD1</text>
<text x="436.10" y="411.63" font-size="6.9">CYP1B1</text>
<text x="436.10" y="419.51" font-size="6.9">MYC</text>
<text x="436.10" y="427.40" font-size="6.9">IL31RA</text>
<text x="436.10" y="435.28" font-size="6.9">CDK6</text>
<text x="436.10" y="443.17" font-size="6.9">TNFRSF8</text>
<text x="436.10" y="451.05" font-size="6.9">CCNE2</text>
<text x="436.10" y="458.94" font-size="6.9">CDK4</text>
<text x="436.10" y="466.82" font-size="6.9">BATF3</text>
<text x="436.10" y="474.71" font-size="6.9">PIK3CB</text>
<text x="436.10" y="482.59" font-size="6.9">CCND2</text>
<text x="436.10" y="490.48" font-size="6.9">PIK3CD</text>
<text x="436.10" y="498.36" font-size="6.9">IL2RB</text>
<text x="436.10" y="506.25" font-size="6.9">TSC22D3</text>
<text x="436.10" y="514.13" font-size="6.9">JUND</text>
<text x="436.10" y="522.02" font-size="6.9">IL10RB</text>
<text x="436.10" y="529.90" font-size="6.9">IRF7</text>
<text x="436.10" y="537.79" font-size="6.9">CTLA4</text>
<text x="436.10" y="545.67" font-size="6.9">PIK3IP1</text>
<text x="436.10" y="553.56" font-size="6.9">TP53I3</text>
<text x="436.10" y="561.44" font-size="6.9">CCNG2</text>
<text x="436.10" y="569.33" font-size="6.9">CDKN2A</text>
<text x="436.10" y="577.21" font-size="6.9">CASP8</text>
<text x="436.10" y="585.10" font-size="6.9">CDKN1B</text>
<text x="436.10" y="592.98" font-size="6.9">RELA</text>
<text x="436.10" y="600.87" font-size="6.9">PIK3CG</text>
<text x="436.10" y="608.75" font-size="6.9">PTEN</text>
<text x="362.20" y="380.40" font-size="7.3" text-anchor="middle">Vehicle</text>
<text x="410.50" y="380.40" font-size="7.3" text-anchor="middle">Triple</text>
<line x1="339.00" y1="383.70" x2="384.50" y2="383.70" stroke="#444" stroke-width="1"/>
<line x1="388.30" y1="383.70" x2="432.70" y2="383.70" stroke="#444" stroke-width="1"/>
<text x="344.20" y="393.70" font-size="7.5" text-anchor="middle">1</text>
<text x="356.20" y="393.70" font-size="7.5" text-anchor="middle">2</text>
<text x="368.50" y="393.70" font-size="7.5" text-anchor="middle">3</text>
<text x="378.60" y="393.70" font-size="7.5" text-anchor="middle">4</text>
<text x="391.20" y="393.70" font-size="7.5" text-anchor="middle">1</text>
<text x="403.20" y="393.70" font-size="7.5" text-anchor="middle">2</text>
<text x="415.10" y="393.70" font-size="7.5" text-anchor="middle">3</text>
<text x="427.30" y="393.70" font-size="7.5" text-anchor="middle">4</text>
<defs><linearGradient id="cb" x1="0" y1="0" x2="0" y2="1"><stop offset="0" stop-color="#cc1a1a"/><stop offset="0.25" stop-color="#e8908c"/><stop offset="0.5" stop-color="#ffffff"/><stop offset="0.75" stop-color="#8686c6"/><stop offset="1" stop-color="#00007f"/></linearGradient></defs>
<rect x="471.90" y="418.70" width="9.00" height="44.20" fill="url(#cb)"/>
<line x1="471.90" y1="419.80" x2="473.40" y2="419.80" stroke="#fff" stroke-width="0.6"/>
<line x1="479.40" y1="419.80" x2="480.90" y2="419.80" stroke="#fff" stroke-width="0.6"/>
<text x="484.50" y="422.30" font-size="7.2">2</text>
<line x1="471.90" y1="429.90" x2="473.40" y2="429.90" stroke="#fff" stroke-width="0.6"/>
<line x1="479.40" y1="429.90" x2="480.90" y2="429.90" stroke="#fff" stroke-width="0.6"/>
<text x="484.50" y="432.40" font-size="7.2">1</text>
<line x1="471.90" y1="440.00" x2="473.40" y2="440.00" stroke="#fff" stroke-width="0.6"/>
<line x1="479.40" y1="440.00" x2="480.90" y2="440.00" stroke="#fff" stroke-width="0.6"/>
<text x="484.50" y="442.50" font-size="7.2">0</text>
<line x1="471.90" y1="450.10" x2="473.40" y2="450.10" stroke="#fff" stroke-width="0.6"/>
<line x1="479.40" y1="450.10" x2="480.90" y2="450.10" stroke="#fff" stroke-width="0.6"/>
<text x="484.50" y="452.60" font-size="7.2">−1</text>
<line x1="471.90" y1="460.20" x2="473.40" y2="460.20" stroke="#fff" stroke-width="0.6"/>
<line x1="479.40" y1="460.20" x2="480.90" y2="460.20" stroke="#fff" stroke-width="0.6"/>
<text x="484.50" y="462.70" font-size="7.2">−2</text>
<g>
<polygon points="396.0,57.5 392.0,58.0 387.5,60.0 383.5,64.0 380.8,72.0 380.8,90.0 382.4,100.0 385.0,115.0 388.0,130.0 391.6,145.0 393.4,155.0 394.6,158.6 396.0,158.6" fill="#ff6a66"/>
<polygon points="418.6,60.5 421.5,61.0 424.0,63.0 427.0,70.0 427.8,80.0 428.7,100.0 429.6,120.0 427.8,140.0 424.0,150.0 421.6,158.6 418.6,158.6" fill="#ff6a66"/>
<circle cx="389.6" cy="100.6" r="0.55" fill="#fff" opacity="0.85"/>
<circle cx="382.0" cy="83.8" r="0.55" fill="#fff" opacity="0.85"/>
<circle cx="422.0" cy="66.4" r="0.55" fill="#fff" opacity="0.85"/>
<circle cx="393.0" cy="147.2" r="0.55" fill="#fff" opacity="0.85"/>
<circle cx="389.9" cy="76.8" r="0.55" fill="#fff" opacity="0.85"/>
<circle cx="422.7" cy="86.4" r="0.55" fill="#fff" opacity="0.85"/>
<circle cx="425.1" cy="70.2" r="0.55" fill="#fff" opacity="0.85"/>
<circle cx="422.1" cy="137.9" r="0.55" fill="#fff" opacity="0.85"/>
<circle cx="425.0" cy="118.8" r="0.55" fill="#fff" opacity="0.85"/>
<circle cx="393.0" cy="144.3" r="0.55" fill="#fff" opacity="0.85"/>
<circle cx="388.3" cy="126.2" r="0.55" fill="#fff" opacity="0.85"/>
<circle cx="422.2" cy="120.7" r="0.55" fill="#fff" opacity="0.85"/>
<circle cx="422.6" cy="92.1" r="0.55" fill="#fff" opacity="0.85"/>
<circle cx="421.9" cy="138.3" r="0.55" fill="#fff" opacity="0.85"/>
<circle cx="424.4" cy="96.9" r="0.55" fill="#fff" opacity="0.85"/>
<circle cx="391.9" cy="122.9" r="0.55" fill="#fff" opacity="0.85"/>
<circle cx="425.7" cy="96.5" r="0.55" fill="#fff" opacity="0.85"/>
<circle cx="391.0" cy="101.1" r="0.55" fill="#fff" opacity="0.85"/>
<circle cx="423.7" cy="145.4" r="0.55" fill="#fff" opacity="0.85"/>
<circle cx="392.7" cy="90.6" r="0.55" fill="#fff" opacity="0.85"/>
<circle cx="423.9" cy="125.1" r="0.55" fill="#fff" opacity="0.85"/>
<circle cx="427.7" cy="116.9" r="0.55" fill="#fff" opacity="0.85"/>
<circle cx="389.2" cy="116.5" r="0.55" fill="#fff" opacity="0.85"/>
<circle cx="392.5" cy="140.6" r="0.55" fill="#fff" opacity="0.85"/>
<circle cx="427.5" cy="116.5" r="0.55" fill="#fff" opacity="0.85"/>
<circle cx="384.7" cy="89.8" r="0.55" fill="#fff" opacity="0.85"/>
<circle cx="427.0" cy="101.5" r="0.55" fill="#fff" opacity="0.85"/>
<circle cx="392.8" cy="140.5" r="0.55" fill="#fff" opacity="0.85"/>
<circle cx="425.2" cy="134.2" r="0.55" fill="#fff" opacity="0.85"/>
<circle cx="426.5" cy="89.0" r="0.55" fill="#fff" opacity="0.85"/>
<circle cx="424.1" cy="123.5" r="0.55" fill="#fff" opacity="0.85"/>
<circle cx="425.7" cy="73.1" r="0.55" fill="#fff" opacity="0.85"/>
<circle cx="427.0" cy="82.8" r="0.55" fill="#fff" opacity="0.85"/>
<circle cx="425.6" cy="85.7" r="0.55" fill="#fff" opacity="0.85"/>
<circle cx="386.5" cy="105.1" r="0.55" fill="#fff" opacity="0.85"/>
<circle cx="424.7" cy="129.1" r="0.55" fill="#fff" opacity="0.85"/>
<circle cx="425.6" cy="73.4" r="0.55" fill="#fff" opacity="0.85"/>
<circle cx="426.9" cy="85.6" r="0.55" fill="#fff" opacity="0.85"/>
<circle cx="424.3" cy="140.3" r="0.55" fill="#fff" opacity="0.85"/>
<circle cx="387.4" cy="115.5" r="0.55" fill="#fff" opacity="0.85"/>
<circle cx="423.7" cy="81.2" r="0.55" fill="#fff" opacity="0.85"/>
<circle cx="425.3" cy="113.4" r="0.55" fill="#fff" opacity="0.85"/>
<circle cx="393.0" cy="78.5" r="0.55" fill="#fff" opacity="0.85"/>
<circle cx="389.3" cy="97.4" r="0.55" fill="#fff" opacity="0.85"/>
<circle cx="391.6" cy="132.1" r="0.55" fill="#fff" opacity="0.85"/>
<circle cx="421.7" cy="95.0" r="0.55" fill="#fff" opacity="0.85"/>
<circle cx="425.4" cy="68.8" r="0.55" fill="#fff" opacity="0.85"/>
<circle cx="423.4" cy="106.9" r="0.55" fill="#fff" opacity="0.85"/>
<circle cx="427.7" cy="131.5" r="0.55" fill="#fff" opacity="0.85"/>
<circle cx="427.9" cy="130.4" r="0.55" fill="#fff" opacity="0.85"/>
<circle cx="384.1" cy="87.3" r="0.55" fill="#fff" opacity="0.85"/>
<circle cx="382.4" cy="81.2" r="0.55" fill="#fff" opacity="0.85"/>
<circle cx="424.9" cy="112.8" r="0.55" fill="#fff" opacity="0.85"/>
<circle cx="421.8" cy="145.6" r="0.55" fill="#fff" opacity="0.85"/>
<circle cx="387.1" cy="116.2" r="0.55" fill="#fff" opacity="0.85"/>
<circle cx="392.9" cy="146.6" r="0.55" fill="#fff" opacity="0.85"/>
<circle cx="426.6" cy="119.8" r="0.55" fill="#fff" opacity="0.85"/>
<circle cx="422.6" cy="99.0" r="0.55" fill="#fff" opacity="0.85"/>
<circle cx="422.3" cy="147.1" r="0.55" fill="#fff" opacity="0.85"/>
<circle cx="386.3" cy="69.2" r="0.55" fill="#fff" opacity="0.85"/>
<circle cx="425.8" cy="141.8" r="0.55" fill="#fff" opacity="0.85"/>
<circle cx="425.1" cy="70.0" r="0.55" fill="#fff" opacity="0.85"/>
<circle cx="422.0" cy="120.3" r="0.55" fill="#fff" opacity="0.85"/>
<circle cx="426.8" cy="78.2" r="0.55" fill="#fff" opacity="0.85"/>
<circle cx="390.8" cy="122.9" r="0.55" fill="#fff" opacity="0.85"/>
<circle cx="390.3" cy="129.7" r="0.55" fill="#fff" opacity="0.85"/>
<circle cx="387.2" cy="87.6" r="0.55" fill="#fff" opacity="0.85"/>
<circle cx="383.4" cy="80.2" r="0.55" fill="#fff" opacity="0.85"/>
<circle cx="391.5" cy="122.9" r="0.55" fill="#fff" opacity="0.85"/>
<circle cx="392.2" cy="82.4" r="0.55" fill="#fff" opacity="0.85"/>
<circle cx="375.5" cy="74.8" r="1.1" fill="#ff5b57"/>
<circle cx="383.9" cy="112.5" r="1.1" fill="#ff5b57"/>
<circle cx="384.9" cy="109.7" r="1.1" fill="#ff5b57"/>
<circle cx="383.0" cy="66.8" r="1.1" fill="#ff5b57"/>
<circle cx="391.2" cy="141.0" r="1.1" fill="#ff5b57"/>
<circle cx="376.7" cy="121.5" r="1.1" fill="#ff5b57"/>
<circle cx="448.3" cy="100.7" r="1.1" fill="#ff5b57"/>
<circle cx="391.2" cy="144.1" r="1.1" fill="#ff5b57"/>
<circle cx="379.7" cy="71.5" r="1.1" fill="#ff5b57"/>
<circle cx="431.6" cy="80.2" r="1.1" fill="#ff5b57"/>
<circle cx="432.0" cy="98.4" r="1.1" fill="#ff5b57"/>
<circle cx="382.5" cy="65.8" r="1.1" fill="#ff5b57"/>
<circle cx="429.9" cy="103.6" r="1.1" fill="#ff5b57"/>
<circle cx="429.9" cy="106.1" r="1.1" fill="#ff5b57"/>
<circle cx="429.3" cy="129.4" r="1.1" fill="#ff5b57"/>
<circle cx="439.7" cy="112.9" r="1.1" fill="#ff5b57"/>
<circle cx="448.8" cy="90.4" r="1.1" fill="#ff5b57"/>
<circle cx="378.5" cy="101.0" r="1.1" fill="#ff5b57"/>
<circle cx="384.6" cy="107.9" r="1.1" fill="#ff5b57"/>
<circle cx="431.9" cy="135.6" r="1.1" fill="#ff5b57"/>
<circle cx="433.9" cy="92.8" r="1.1" fill="#ff5b57"/>
<circle cx="431.9" cy="118.1" r="1.1" fill="#ff5b57"/>
<circle cx="425.8" cy="152.7" r="1.1" fill="#ff5b57"/>
<circle cx="432.1" cy="68.8" r="1.1" fill="#ff5b57"/>
<circle cx="430.4" cy="157.3" r="1.1" fill="#ff5b57"/>
<circle cx="376.4" cy="97.8" r="1.1" fill="#ff5b57"/>
<circle cx="383.6" cy="105.2" r="1.1" fill="#ff5b57"/>
<circle cx="375.1" cy="65.8" r="1.1" fill="#ff5b57"/>
<circle cx="378.8" cy="84.3" r="1.1" fill="#ff5b57"/>
<circle cx="429.3" cy="70.7" r="1.1" fill="#ff5b57"/>
<circle cx="433.6" cy="146.9" r="1.1" fill="#ff5b57"/>
<circle cx="430.2" cy="89.5" r="1.1" fill="#ff5b57"/>
<circle cx="381.5" cy="146.7" r="1.1" fill="#ff5b57"/>
<circle cx="380.2" cy="77.3" r="1.1" fill="#ff5b57"/>
<circle cx="381.5" cy="107.5" r="1.1" fill="#ff5b57"/>
<circle cx="384.8" cy="60.4" r="1.1" fill="#ff5b57"/>
<circle cx="375.1" cy="115.5" r="1.1" fill="#ff5b57"/>
<circle cx="433.5" cy="112.0" r="1.1" fill="#ff5b57"/>
<circle cx="437.8" cy="68.1" r="1.1" fill="#ff5b57"/>
<circle cx="433.3" cy="146.1" r="1.1" fill="#ff5b57"/>
<circle cx="382.6" cy="99.1" r="1.1" fill="#ff5b57"/>
<circle cx="425.9" cy="68.9" r="1.1" fill="#ff5b57"/>
<circle cx="379.3" cy="75.9" r="1.1" fill="#ff5b57"/>
<circle cx="387.5" cy="60.0" r="1.1" fill="#ff5b57"/>
<circle cx="382.5" cy="95.6" r="1.1" fill="#ff5b57"/>
<circle cx="429.4" cy="121.3" r="1.1" fill="#ff5b57"/>
<circle cx="379.7" cy="94.0" r="1.1" fill="#ff5b57"/>
<circle cx="374.3" cy="143.2" r="1.1" fill="#ff5b57"/>
<circle cx="384.4" cy="107.4" r="1.1" fill="#ff5b57"/>
<circle cx="380.5" cy="93.6" r="1.1" fill="#ff5b57"/>
<circle cx="426.8" cy="78.3" r="1.1" fill="#ff5b57"/>
<circle cx="429.2" cy="113.2" r="1.1" fill="#ff5b57"/>
<circle cx="428.2" cy="65.6" r="1.1" fill="#ff5b57"/>
<circle cx="431.4" cy="145.0" r="1.1" fill="#ff5b57"/>
<circle cx="381.7" cy="95.9" r="1.1" fill="#ff5b57"/>
<circle cx="436.6" cy="113.6" r="1.1" fill="#ff5b57"/>
<circle cx="371.8" cy="81.9" r="1.1" fill="#ff5b57"/>
<circle cx="434.3" cy="144.0" r="1.1" fill="#ff5b57"/>
<circle cx="428.8" cy="133.3" r="1.1" fill="#ff5b57"/>
<circle cx="427.7" cy="96.8" r="1.1" fill="#ff5b57"/>
<circle cx="380.0" cy="87.4" r="1.1" fill="#ff5b57"/>
<circle cx="425.2" cy="153.9" r="1.1" fill="#ff5b57"/>
<circle cx="438.1" cy="156.9" r="1.1" fill="#ff5b57"/>
<circle cx="380.3" cy="81.6" r="1.1" fill="#ff5b57"/>
<circle cx="375.9" cy="80.0" r="1.1" fill="#ff5b57"/>
<circle cx="429.3" cy="142.8" r="1.1" fill="#ff5b57"/>
<circle cx="427.4" cy="139.0" r="1.1" fill="#ff5b57"/>
<circle cx="431.6" cy="149.4" r="1.1" fill="#ff5b57"/>
<circle cx="429.2" cy="108.4" r="1.1" fill="#ff5b57"/>
<circle cx="436.3" cy="94.6" r="1.1" fill="#ff5b57"/>
<circle cx="430.5" cy="100.6" r="1.1" fill="#ff5b57"/>
<circle cx="428.6" cy="131.9" r="1.1" fill="#ff5b57"/>
<circle cx="367.7" cy="74.8" r="1.1" fill="#ff5b57"/>
<circle cx="436.2" cy="76.9" r="1.1" fill="#ff5b57"/>
<circle cx="430.5" cy="125.4" r="1.1" fill="#ff5b57"/>
<circle cx="426.5" cy="75.4" r="1.1" fill="#ff5b57"/>
<circle cx="432.3" cy="124.7" r="1.1" fill="#ff5b57"/>
<circle cx="439.2" cy="104.2" r="1.1" fill="#ff5b57"/>
<circle cx="428.5" cy="83.0" r="1.1" fill="#ff5b57"/>
<circle cx="376.5" cy="83.6" r="1.1" fill="#ff5b57"/>
<circle cx="383.1" cy="101.1" r="1.1" fill="#ff5b57"/>
<circle cx="430.9" cy="96.6" r="1.1" fill="#ff5b57"/>
<circle cx="426.4" cy="148.9" r="1.1" fill="#ff5b57"/>
<circle cx="432.4" cy="110.7" r="1.1" fill="#ff5b57"/>
<circle cx="427.0" cy="64.8" r="1.1" fill="#ff5b57"/>
<circle cx="378.5" cy="60.4" r="1.1" fill="#ff5b57"/>
<circle cx="379.9" cy="106.4" r="1.1" fill="#ff5b57"/>
<circle cx="431.4" cy="94.0" r="1.1" fill="#ff5b57"/>
<circle cx="427.6" cy="137.5" r="1.1" fill="#ff5b57"/>
<circle cx="428.9" cy="86.6" r="1.1" fill="#ff5b57"/>
<circle cx="432.7" cy="111.2" r="1.1" fill="#ff5b57"/>
<circle cx="426.3" cy="149.7" r="1.1" fill="#ff5b57"/>
<circle cx="432.1" cy="111.0" r="1.1" fill="#ff5b57"/>
<circle cx="432.2" cy="106.0" r="1.1" fill="#ff5b57"/>
<circle cx="389.6" cy="152.3" r="1.1" fill="#ff5b57"/>
<circle cx="424.0" cy="152.5" r="1.1" fill="#ff5b57"/>
<circle cx="432.4" cy="152.6" r="1.1" fill="#ff5b57"/>
<circle cx="378.3" cy="71.9" r="1.1" fill="#ff5b57"/>
<circle cx="381.3" cy="83.6" r="1.1" fill="#ff5b57"/>
<circle cx="439.5" cy="137.5" r="1.1" fill="#ff5b57"/>
<circle cx="385.2" cy="130.2" r="1.1" fill="#ff5b57"/>
<circle cx="380.5" cy="146.5" r="1.1" fill="#ff5b57"/>
<circle cx="392.3" cy="153.3" r="1.1" fill="#ff5b57"/>
<circle cx="388.6" cy="157.0" r="1.1" fill="#ff5b57"/>
<circle cx="381.2" cy="102.3" r="1.1" fill="#ff5b57"/>
<circle cx="379.5" cy="79.2" r="1.1" fill="#ff5b57"/>
<circle cx="428.2" cy="64.9" r="1.1" fill="#ff5b57"/>
<circle cx="384.3" cy="61.8" r="1.1" fill="#ff5b57"/>
<circle cx="428.6" cy="111.7" r="1.1" fill="#ff5b57"/>
<circle cx="446.6" cy="137.9" r="1.1" fill="#ff5b57"/>
<circle cx="381.6" cy="86.0" r="1.1" fill="#ff5b57"/>
<circle cx="428.0" cy="88.7" r="1.1" fill="#ff5b57"/>
<circle cx="387.2" cy="149.3" r="1.1" fill="#ff5b57"/>
<circle cx="366.7" cy="74.6" r="1.1" fill="#ff5b57"/>
<circle cx="428.3" cy="129.5" r="1.1" fill="#ff5b57"/>
<circle cx="386.5" cy="127.4" r="1.1" fill="#ff5b57"/>
<circle cx="390.2" cy="152.0" r="1.1" fill="#ff5b57"/>
<circle cx="436.7" cy="71.0" r="1.1" fill="#ff5b57"/>
<circle cx="390.3" cy="144.6" r="1.1" fill="#ff5b57"/>
<circle cx="376.5" cy="114.2" r="1.1" fill="#ff5b57"/>
<circle cx="377.3" cy="72.7" r="1.1" fill="#ff5b57"/>
<circle cx="381.2" cy="70.7" r="1.1" fill="#ff5b57"/>
<circle cx="379.6" cy="79.8" r="1.1" fill="#ff5b57"/>
<circle cx="388.8" cy="134.4" r="1.1" fill="#ff5b57"/>
<circle cx="429.1" cy="79.9" r="1.1" fill="#ff5b57"/>
<circle cx="381.7" cy="84.5" r="1.1" fill="#ff5b57"/>
<circle cx="429.5" cy="115.3" r="1.1" fill="#ff5b57"/>
<circle cx="393.4" cy="151.6" r="1.1" fill="#ff5b57"/>
<circle cx="431.6" cy="104.1" r="1.1" fill="#ff5b57"/>
<circle cx="431.6" cy="100.3" r="1.1" fill="#ff5b57"/>
<circle cx="423.5" cy="156.3" r="1.1" fill="#ff5b57"/>
<circle cx="433.2" cy="130.1" r="1.1" fill="#ff5b57"/>
<circle cx="382.1" cy="94.1" r="1.1" fill="#ff5b57"/>
<circle cx="375.4" cy="66.9" r="1.1" fill="#ff5b57"/>
<circle cx="381.3" cy="76.0" r="1.1" fill="#ff5b57"/>
<circle cx="430.7" cy="145.7" r="1.1" fill="#ff5b57"/>
<circle cx="379.7" cy="83.7" r="1.1" fill="#ff5b57"/>
<circle cx="378.3" cy="75.4" r="1.1" fill="#ff5b57"/>
<circle cx="381.3" cy="154.3" r="1.1" fill="#ff5b57"/>
<circle cx="445.6" cy="86.2" r="1.1" fill="#ff5b57"/>
<circle cx="382.6" cy="94.9" r="1.1" fill="#ff5b57"/>
<circle cx="382.0" cy="106.5" r="1.1" fill="#ff5b57"/>
<circle cx="385.0" cy="109.5" r="1.1" fill="#ff5b57"/>
<circle cx="379.8" cy="68.8" r="1.1" fill="#ff5b57"/>
<circle cx="384.1" cy="62.2" r="1.1" fill="#ff5b57"/>
<circle cx="383.8" cy="117.4" r="1.1" fill="#ff5b57"/>
<circle cx="435.0" cy="125.5" r="1.1" fill="#ff5b57"/>
<circle cx="429.9" cy="100.0" r="1.1" fill="#ff5b57"/>
<circle cx="433.7" cy="77.2" r="1.1" fill="#ff5b57"/>
<circle cx="434.7" cy="67.2" r="1.1" fill="#ff5b57"/>
<circle cx="435.6" cy="122.6" r="1.1" fill="#ff5b57"/>
<circle cx="430.6" cy="76.2" r="1.1" fill="#ff5b57"/>
<circle cx="434.9" cy="142.3" r="1.1" fill="#ff5b57"/>
<circle cx="440.8" cy="118.5" r="1.1" fill="#ff5b57"/>
<circle cx="429.2" cy="128.9" r="1.1" fill="#ff5b57"/>
<circle cx="379.1" cy="73.0" r="1.1" fill="#ff5b57"/>
<circle cx="388.9" cy="141.9" r="1.1" fill="#ff5b57"/>
<circle cx="434.7" cy="122.5" r="1.1" fill="#ff5b57"/>
<circle cx="378.6" cy="60.3" r="1.1" fill="#ff5b57"/>
<circle cx="432.4" cy="110.8" r="1.1" fill="#ff5b57"/>
<circle cx="433.0" cy="69.3" r="1.1" fill="#ff5b57"/>
<circle cx="381.5" cy="67.3" r="1.1" fill="#ff5b57"/>
<circle cx="434.3" cy="82.5" r="1.1" fill="#ff5b57"/>
<circle cx="430.8" cy="109.9" r="1.1" fill="#ff5b57"/>
<circle cx="383.2" cy="127.0" r="1.1" fill="#ff5b57"/>
<circle cx="428.7" cy="124.1" r="1.1" fill="#ff5b57"/>
<circle cx="373.6" cy="84.9" r="1.1" fill="#ff5b57"/>
<circle cx="386.1" cy="115.6" r="1.1" fill="#ff5b57"/>
<circle cx="375.1" cy="86.3" r="1.1" fill="#ff5b57"/>
<circle cx="429.8" cy="127.2" r="1.1" fill="#ff5b57"/>
<circle cx="431.5" cy="107.1" r="1.1" fill="#ff5b57"/>
<circle cx="392.3" cy="147.6" r="1.1" fill="#ff5b57"/>
<circle cx="422.6" cy="151.9" r="1.1" fill="#ff5b57"/>
<circle cx="379.1" cy="140.3" r="1.1" fill="#ff5b57"/>
<circle cx="380.4" cy="86.3" r="1.1" fill="#ff5b57"/>
<circle cx="431.7" cy="83.0" r="1.1" fill="#ff5b57"/>
<circle cx="374.4" cy="111.4" r="1.1" fill="#ff5b57"/>
<circle cx="388.9" cy="140.4" r="1.1" fill="#ff5b57"/>
<circle cx="429.2" cy="129.8" r="1.1" fill="#ff5b57"/>
<circle cx="428.3" cy="109.2" r="1.1" fill="#ff5b57"/>
<circle cx="382.7" cy="108.2" r="1.1" fill="#ff5b57"/>
<circle cx="379.3" cy="73.8" r="1.1" fill="#ff5b57"/>
<circle cx="392.0" cy="142.3" r="1.1" fill="#ff5b57"/>
<circle cx="426.5" cy="142.7" r="1.1" fill="#ff5b57"/>
<circle cx="440.4" cy="130.7" r="1.1" fill="#ff5b57"/>
<circle cx="379.8" cy="96.5" r="1.1" fill="#ff5b57"/>
<circle cx="431.0" cy="119.0" r="1.1" fill="#ff5b57"/>
<circle cx="381.5" cy="87.0" r="1.1" fill="#ff5b57"/>
<circle cx="390.6" cy="141.8" r="1.1" fill="#ff5b57"/>
<circle cx="428.8" cy="86.7" r="1.1" fill="#ff5b57"/>
<circle cx="429.4" cy="81.0" r="1.1" fill="#ff5b57"/>
<circle cx="433.3" cy="147.0" r="1.1" fill="#ff5b57"/>
<circle cx="438.6" cy="149.8" r="1.1" fill="#ff5b57"/>
<circle cx="427.9" cy="131.4" r="1.1" fill="#ff5b57"/>
<circle cx="435.6" cy="105.8" r="1.1" fill="#ff5b57"/>
<circle cx="427.5" cy="90.2" r="1.1" fill="#ff5b57"/>
<circle cx="429.9" cy="75.1" r="1.1" fill="#ff5b57"/>
<circle cx="373.7" cy="89.2" r="1.1" fill="#ff5b57"/>
<circle cx="433.0" cy="87.7" r="1.1" fill="#ff5b57"/>
<circle cx="384.1" cy="114.6" r="1.1" fill="#ff5b57"/>
<circle cx="380.4" cy="75.8" r="1.1" fill="#ff5b57"/>
<circle cx="429.5" cy="110.2" r="1.1" fill="#ff5b57"/>
<circle cx="424.1" cy="157.7" r="1.1" fill="#ff5b57"/>
<circle cx="381.2" cy="78.9" r="1.1" fill="#ff5b57"/>
<circle cx="381.2" cy="68.9" r="1.1" fill="#ff5b57"/>
<circle cx="378.3" cy="115.8" r="1.1" fill="#ff5b57"/>
<circle cx="430.7" cy="102.2" r="1.1" fill="#ff5b57"/>
<circle cx="429.9" cy="98.8" r="1.1" fill="#ff5b57"/>
<circle cx="361.2" cy="87.2" r="1.1" fill="#ff5b57"/>
<circle cx="381.4" cy="109.3" r="1.1" fill="#ff5b57"/>
<circle cx="428.7" cy="83.5" r="1.1" fill="#ff5b57"/>
<circle cx="379.7" cy="99.2" r="1.1" fill="#ff5b57"/>
<circle cx="436.8" cy="143.6" r="1.1" fill="#ff5b57"/>
<circle cx="377.9" cy="63.2" r="1.1" fill="#ff5b57"/>
<circle cx="432.9" cy="108.0" r="1.1" fill="#ff5b57"/>
<circle cx="367.4" cy="98.4" r="1.1" fill="#ff5b57"/>
<circle cx="444.9" cy="144.3" r="1.1" fill="#ff5b57"/>
<circle cx="381.2" cy="70.7" r="1.1" fill="#ff5b57"/>
<circle cx="443.5" cy="127.8" r="1.1" fill="#ff5b57"/>
<circle cx="436.2" cy="124.5" r="1.1" fill="#ff5b57"/>
<circle cx="385.7" cy="114.0" r="1.1" fill="#ff5b57"/>
<circle cx="440.9" cy="85.1" r="1.1" fill="#ff5b57"/>
<circle cx="428.1" cy="91.9" r="1.1" fill="#ff5b57"/>
<circle cx="383.2" cy="122.4" r="1.1" fill="#ff5b57"/>
<circle cx="379.1" cy="66.9" r="1.1" fill="#ff5b57"/>
<circle cx="429.1" cy="99.9" r="1.1" fill="#ff5b57"/>
<circle cx="425.4" cy="64.0" r="1.1" fill="#ff5b57"/>
<circle cx="390.5" cy="154.0" r="1.1" fill="#ff5b57"/>
<circle cx="429.5" cy="108.2" r="1.1" fill="#ff5b57"/>
<circle cx="389.9" cy="154.1" r="1.1" fill="#ff5b57"/>
<circle cx="382.2" cy="62.1" r="1.1" fill="#ff5b57"/>
<circle cx="429.5" cy="102.9" r="1.1" fill="#ff5b57"/>
<circle cx="424.2" cy="150.9" r="1.1" fill="#ff5b57"/>
<circle cx="379.0" cy="93.1" r="1.1" fill="#ff5b57"/>
<circle cx="435.7" cy="81.8" r="1.1" fill="#ff5b57"/>
<circle cx="429.5" cy="111.0" r="1.1" fill="#ff5b57"/>
<circle cx="436.8" cy="92.6" r="1.1" fill="#ff5b57"/>
<circle cx="373.2" cy="81.7" r="1.1" fill="#ff5b57"/>
<circle cx="391.6" cy="153.3" r="1.1" fill="#ff5b57"/>
<circle cx="378.6" cy="81.9" r="1.1" fill="#ff5b57"/>
<circle cx="423.0" cy="153.1" r="1.1" fill="#ff5b57"/>
<circle cx="359.9" cy="80.9" r="1.1" fill="#ff5b57"/>
<circle cx="383.8" cy="65.1" r="1.1" fill="#ff5b57"/>
<circle cx="385.4" cy="148.0" r="1.1" fill="#ff5b57"/>
<circle cx="435.6" cy="157.8" r="1.1" fill="#ff5b57"/>
<circle cx="365.3" cy="78.2" r="1.1" fill="#ff5b57"/>
<circle cx="430.3" cy="66.0" r="1.1" fill="#ff5b57"/>
<circle cx="380.4" cy="96.6" r="1.1" fill="#ff5b57"/>
<circle cx="386.2" cy="60.3" r="1.1" fill="#ff5b57"/>
<circle cx="393.7" cy="153.6" r="1.1" fill="#ff5b57"/>
<circle cx="429.3" cy="82.7" r="1.1" fill="#ff5b57"/>
<circle cx="429.5" cy="141.1" r="1.1" fill="#ff5b57"/>
<circle cx="382.8" cy="106.4" r="1.1" fill="#ff5b57"/>
<circle cx="429.4" cy="81.3" r="1.1" fill="#ff5b57"/>
<circle cx="427.1" cy="65.9" r="1.1" fill="#ff5b57"/>
<circle cx="427.4" cy="135.8" r="1.1" fill="#ff5b57"/>
<circle cx="368.6" cy="66.1" r="1.1" fill="#ff5b57"/>
<circle cx="381.5" cy="133.2" r="1.1" fill="#ff5b57"/>
<circle cx="362.8" cy="86.7" r="1.1" fill="#ff5b57"/>
<circle cx="434.1" cy="87.9" r="1.1" fill="#ff5b57"/>
<circle cx="381.8" cy="87.0" r="1.1" fill="#ff5b57"/>
<circle cx="428.5" cy="150.1" r="1.1" fill="#ff5b57"/>
<circle cx="425.5" cy="65.3" r="1.1" fill="#ff5b57"/>
<circle cx="383.1" cy="153.8" r="1.1" fill="#ff5b57"/>
<circle cx="378.4" cy="84.6" r="1.1" fill="#ff5b57"/>
<circle cx="392.9" cy="151.0" r="1.1" fill="#ff5b57"/>
<circle cx="436.9" cy="133.2" r="1.1" fill="#ff5b57"/>
<circle cx="430.7" cy="120.7" r="1.1" fill="#ff5b57"/>
<circle cx="373.5" cy="95.5" r="1.1" fill="#ff5b57"/>
<circle cx="373.4" cy="79.3" r="1.1" fill="#ff5b57"/>
<circle cx="383.5" cy="66.3" r="1.1" fill="#ff5b57"/>
<circle cx="449.0" cy="93.9" r="1.1" fill="#ff5b57"/>
<circle cx="422.8" cy="156.8" r="1.1" fill="#ff5b57"/>
<circle cx="378.5" cy="69.4" r="1.1" fill="#ff5b57"/>
<circle cx="429.4" cy="105.5" r="1.1" fill="#ff5b57"/>
<circle cx="383.1" cy="120.8" r="1.1" fill="#ff5b57"/>
<circle cx="431.5" cy="143.5" r="1.1" fill="#ff5b57"/>
<circle cx="390.7" cy="142.4" r="1.1" fill="#ff5b57"/>
<circle cx="435.0" cy="98.4" r="1.1" fill="#ff5b57"/>
<circle cx="380.1" cy="84.2" r="1.1" fill="#ff5b57"/>
<circle cx="389.8" cy="146.6" r="1.1" fill="#ff5b57"/>
<circle cx="353.9" cy="98.8" r="1.1" fill="#ff5b57"/>
<circle cx="436.1" cy="85.0" r="1.1" fill="#ff5b57"/>
<circle cx="421.6" cy="157.1" r="1.1" fill="#ff5b57"/>
<circle cx="384.9" cy="140.3" r="1.1" fill="#ff5b57"/>
<circle cx="426.6" cy="66.8" r="1.1" fill="#ff5b57"/>
<circle cx="360.1" cy="78.6" r="1.1" fill="#ff5b57"/>
<circle cx="425.2" cy="151.4" r="1.1" fill="#ff5b57"/>
<circle cx="429.6" cy="105.7" r="1.1" fill="#ff5b57"/>
<circle cx="422.8" cy="152.8" r="1.1" fill="#ff5b57"/>
<circle cx="429.8" cy="121.9" r="1.1" fill="#ff5b57"/>
<circle cx="380.4" cy="73.9" r="1.1" fill="#ff5b57"/>
<circle cx="383.0" cy="118.7" r="1.1" fill="#ff5b57"/>
<circle cx="385.0" cy="61.1" r="1.1" fill="#ff5b57"/>
<circle cx="428.9" cy="80.6" r="1.1" fill="#ff5b57"/>
<circle cx="388.0" cy="137.9" r="1.1" fill="#ff5b57"/>
<circle cx="379.5" cy="69.9" r="1.1" fill="#ff5b57"/>
<circle cx="428.8" cy="123.7" r="1.1" fill="#ff5b57"/>
<circle cx="386.7" cy="128.1" r="1.1" fill="#ff5b57"/>
<circle cx="363.5" cy="90.1" r="1.1" fill="#ff5b57"/>
<circle cx="384.5" cy="115.5" r="1.1" fill="#ff5b57"/>
<circle cx="372.0" cy="144.7" r="1.1" fill="#ff5b57"/>
<circle cx="374.0" cy="79.3" r="1.1" fill="#ff5b57"/>
<circle cx="374.0" cy="60.6" r="1.1" fill="#ff5b57"/>
<circle cx="389.6" cy="140.4" r="1.1" fill="#ff5b57"/>
<circle cx="429.0" cy="106.8" r="1.1" fill="#ff5b57"/>
<circle cx="382.2" cy="114.1" r="1.1" fill="#ff5b57"/>
<circle cx="431.5" cy="71.5" r="1.1" fill="#ff5b57"/>
<circle cx="384.5" cy="109.4" r="1.1" fill="#ff5b57"/>
<circle cx="376.0" cy="111.1" r="1.1" fill="#ff5b57"/>
<circle cx="378.9" cy="108.1" r="1.1" fill="#ff5b57"/>
<circle cx="427.6" cy="81.7" r="1.1" fill="#ff5b57"/>
<circle cx="425.0" cy="155.7" r="1.1" fill="#ff5b57"/>
<circle cx="391.9" cy="150.8" r="1.1" fill="#ff5b57"/>
<circle cx="438.0" cy="121.9" r="1.1" fill="#ff5b57"/>
<circle cx="389.8" cy="137.0" r="1.1" fill="#ff5b57"/>
<circle cx="385.7" cy="142.9" r="1.1" fill="#ff5b57"/>
<circle cx="378.7" cy="81.4" r="1.1" fill="#ff5b57"/>
<circle cx="428.4" cy="99.4" r="1.1" fill="#ff5b57"/>
<circle cx="381.1" cy="131.0" r="1.1" fill="#ff5b57"/>
<circle cx="380.9" cy="115.1" r="1.1" fill="#ff5b57"/>
<circle cx="391.5" cy="142.1" r="1.1" fill="#ff5b57"/>
<circle cx="433.8" cy="115.3" r="1.1" fill="#ff5b57"/>
<circle cx="380.5" cy="101.2" r="1.1" fill="#ff5b57"/>
<circle cx="385.8" cy="124.6" r="1.1" fill="#ff5b57"/>
<circle cx="380.4" cy="62.3" r="1.1" fill="#ff5b57"/>
<circle cx="373.1" cy="83.1" r="1.1" fill="#ff5b57"/>
<circle cx="429.1" cy="106.5" r="1.1" fill="#ff5b57"/>
<circle cx="381.5" cy="70.5" r="1.1" fill="#ff5b57"/>
<circle cx="379.3" cy="69.0" r="1.1" fill="#ff5b57"/>
<circle cx="430.2" cy="66.9" r="1.1" fill="#ff5b57"/>
<circle cx="384.0" cy="131.9" r="1.1" fill="#ff5b57"/>
<circle cx="429.1" cy="68.2" r="1.1" fill="#ff5b57"/>
<circle cx="393.5" cy="153.2" r="1.1" fill="#ff5b57"/>
<circle cx="428.1" cy="157.6" r="1.1" fill="#ff5b57"/>
<circle cx="448.9" cy="81.4" r="1.1" fill="#ff5b57"/>
<circle cx="385.3" cy="153.8" r="1.1" fill="#ff5b57"/>
<circle cx="381.1" cy="137.3" r="1.1" fill="#ff5b57"/>
<circle cx="374.0" cy="94.4" r="1.1" fill="#ff5b57"/>
<circle cx="392.0" cy="147.9" r="1.1" fill="#ff5b57"/>
<circle cx="430.4" cy="76.6" r="1.1" fill="#ff5b57"/>
<circle cx="428.6" cy="82.8" r="1.1" fill="#ff5b57"/>
<circle cx="427.6" cy="93.3" r="1.1" fill="#ff5b57"/>
<circle cx="365.3" cy="75.8" r="1.1" fill="#ff5b57"/>
<circle cx="424.8" cy="148.1" r="1.1" fill="#ff5b57"/>
<circle cx="430.5" cy="73.9" r="1.1" fill="#ff5b57"/>
<circle cx="438.9" cy="97.2" r="1.1" fill="#ff5b57"/>
<circle cx="440.3" cy="118.1" r="1.1" fill="#ff5b57"/>
<circle cx="391.6" cy="157.3" r="1.1" fill="#ff5b57"/>
<circle cx="389.9" cy="138.2" r="1.1" fill="#ff5b57"/>
<circle cx="431.0" cy="117.8" r="1.1" fill="#ff5b57"/>
<circle cx="429.0" cy="105.0" r="1.1" fill="#ff5b57"/>
<circle cx="434.4" cy="67.6" r="1.1" fill="#ff5b57"/>
<circle cx="372.6" cy="122.6" r="1.1" fill="#ff5b57"/>
<circle cx="430.1" cy="126.1" r="1.1" fill="#ff5b57"/>
<circle cx="384.2" cy="63.3" r="1.1" fill="#ff5b57"/>
<circle cx="431.8" cy="104.1" r="1.1" fill="#ff5b57"/>
<circle cx="427.9" cy="75.5" r="1.1" fill="#ff5b57"/>
<circle cx="423.9" cy="65.1" r="1.1" fill="#ff5b57"/>
<circle cx="379.7" cy="70.4" r="1.1" fill="#ff5b57"/>
<circle cx="383.2" cy="117.2" r="1.1" fill="#ff5b57"/>
<circle cx="384.9" cy="121.1" r="1.1" fill="#ff5b57"/>
<circle cx="392.8" cy="151.8" r="1.1" fill="#ff5b57"/>
<circle cx="376.6" cy="69.4" r="1.1" fill="#ff5b57"/>
<circle cx="429.9" cy="137.3" r="1.1" fill="#ff5b57"/>
<circle cx="381.2" cy="61.1" r="1.1" fill="#ff5b57"/>
<circle cx="433.2" cy="96.3" r="1.1" fill="#ff5b57"/>
<circle cx="389.1" cy="151.8" r="1.1" fill="#ff5b57"/>
<circle cx="393.1" cy="148.5" r="1.1" fill="#ff5b57"/>
<circle cx="429.3" cy="101.6" r="1.1" fill="#ff5b57"/>
<circle cx="390.5" cy="136.3" r="1.1" fill="#ff5b57"/>
<circle cx="423.2" cy="152.4" r="1.1" fill="#ff5b57"/>
<circle cx="384.4" cy="119.6" r="1.1" fill="#ff5b57"/>
<circle cx="427.8" cy="140.3" r="1.1" fill="#ff5b57"/>
<circle cx="381.5" cy="89.4" r="1.1" fill="#ff5b57"/>
<circle cx="433.9" cy="137.4" r="1.1" fill="#ff5b57"/>
<circle cx="387.1" cy="142.8" r="1.1" fill="#ff5b57"/>
<circle cx="387.5" cy="132.7" r="1.1" fill="#ff5b57"/>
<circle cx="380.8" cy="70.3" r="1.1" fill="#ff5b57"/>
<circle cx="374.0" cy="92.9" r="1.1" fill="#ff5b57"/>
<circle cx="432.4" cy="143.3" r="1.1" fill="#ff5b57"/>
<circle cx="383.8" cy="114.3" r="1.1" fill="#ff5b57"/>
<circle cx="430.0" cy="112.7" r="1.1" fill="#ff5b57"/>
<circle cx="423.0" cy="154.7" r="1.1" fill="#ff5b57"/>
<circle cx="425.3" cy="64.4" r="1.1" fill="#ff5b57"/>
<circle cx="379.3" cy="132.9" r="1.1" fill="#ff5b57"/>
<circle cx="439.1" cy="94.1" r="1.1" fill="#ff5b57"/>
<circle cx="367.5" cy="83.4" r="1.1" fill="#ff5b57"/>
<circle cx="433.8" cy="128.8" r="1.1" fill="#ff5b57"/>
<circle cx="438.1" cy="107.6" r="1.1" fill="#ff5b57"/>
<circle cx="428.3" cy="144.5" r="1.1" fill="#ff5b57"/>
<circle cx="430.5" cy="117.2" r="1.1" fill="#ff5b57"/>
<circle cx="386.9" cy="121.0" r="1.1" fill="#ff5b57"/>
<circle cx="426.7" cy="76.7" r="1.1" fill="#ff5b57"/>
<circle cx="392.2" cy="151.0" r="1.1" fill="#ff5b57"/>
<circle cx="385.4" cy="62.8" r="1.1" fill="#ff5b57"/>
<circle cx="434.9" cy="123.2" r="1.1" fill="#ff5b57"/>
<circle cx="430.6" cy="69.2" r="1.1" fill="#ff5b57"/>
<circle cx="385.3" cy="140.1" r="1.1" fill="#ff5b57"/>
<circle cx="436.8" cy="69.3" r="1.1" fill="#ff5b57"/>
<circle cx="422.9" cy="152.7" r="1.1" fill="#ff5b57"/>
<circle cx="381.9" cy="71.0" r="1.1" fill="#ff5b57"/>
<circle cx="432.3" cy="140.1" r="1.1" fill="#ff5b57"/>
<circle cx="430.2" cy="123.0" r="1.1" fill="#ff5b57"/>
<circle cx="374.1" cy="69.6" r="1.1" fill="#ff5b57"/>
<circle cx="378.7" cy="91.3" r="1.1" fill="#ff5b57"/>
<circle cx="379.8" cy="85.2" r="1.1" fill="#ff5b57"/>
<circle cx="429.7" cy="98.0" r="1.1" fill="#ff5b57"/>
<circle cx="438.7" cy="110.9" r="1.1" fill="#ff5b57"/>
<circle cx="427.2" cy="65.9" r="1.1" fill="#ff5b57"/>
<circle cx="388.8" cy="135.8" r="1.1" fill="#ff5b57"/>
<circle cx="429.7" cy="114.1" r="1.1" fill="#ff5b57"/>
<circle cx="435.6" cy="71.6" r="1.1" fill="#ff5b57"/>
<circle cx="387.0" cy="60.1" r="1.1" fill="#ff5b57"/>
<circle cx="421.4" cy="155.9" r="1.1" fill="#ff5b57"/>
<circle cx="379.1" cy="108.2" r="1.1" fill="#ff5b57"/>
<circle cx="383.3" cy="108.5" r="1.1" fill="#ff5b57"/>
<circle cx="443.0" cy="87.8" r="1.1" fill="#ff5b57"/>
<circle cx="374.6" cy="81.0" r="1.1" fill="#ff5b57"/>
<circle cx="376.1" cy="70.8" r="1.1" fill="#ff5b57"/>
<circle cx="386.4" cy="137.2" r="1.1" fill="#ff5b57"/>
<circle cx="430.8" cy="122.7" r="1.1" fill="#ff5b57"/>
<circle cx="369.9" cy="98.7" r="1.1" fill="#ff5b57"/>
<circle cx="392.9" cy="147.1" r="1.1" fill="#ff5b57"/>
<circle cx="367.9" cy="85.8" r="1.1" fill="#ff5b57"/>
<circle cx="439.5" cy="99.0" r="1.1" fill="#ff5b57"/>
<circle cx="381.6" cy="105.2" r="1.1" fill="#ff5b57"/>
<circle cx="433.0" cy="134.5" r="1.1" fill="#ff5b57"/>
<circle cx="381.1" cy="92.0" r="1.1" fill="#ff5b57"/>
<circle cx="435.5" cy="125.9" r="1.1" fill="#ff5b57"/>
<circle cx="378.6" cy="103.0" r="1.1" fill="#ff5b57"/>
<circle cx="429.8" cy="75.0" r="1.1" fill="#ff5b57"/>
<circle cx="428.2" cy="85.6" r="1.1" fill="#ff5b57"/>
<circle cx="382.1" cy="128.9" r="1.1" fill="#ff5b57"/>
<circle cx="380.1" cy="75.3" r="1.1" fill="#ff5b57"/>
<circle cx="384.7" cy="111.2" r="1.1" fill="#ff5b57"/>
<circle cx="359.6" cy="78.5" r="1.1" fill="#ff5b57"/>
<circle cx="444.3" cy="72.7" r="1.1" fill="#ff5b57"/>
<circle cx="358.3" cy="97.7" r="1.1" fill="#ff5b57"/>
<circle cx="430.6" cy="132.7" r="1.1" fill="#ff5b57"/>
<circle cx="387.1" cy="122.5" r="1.1" fill="#ff5b57"/>
<circle cx="382.9" cy="98.1" r="1.1" fill="#ff5b57"/>
<circle cx="386.5" cy="137.5" r="1.1" fill="#ff5b57"/>
<circle cx="431.7" cy="123.1" r="1.1" fill="#ff5b57"/>
<circle cx="385.0" cy="119.2" r="1.1" fill="#ff5b57"/>
<circle cx="426.4" cy="149.3" r="1.1" fill="#ff5b57"/>
<circle cx="430.3" cy="134.2" r="1.1" fill="#ff5b57"/>
<circle cx="381.6" cy="130.8" r="1.1" fill="#ff5b57"/>
<circle cx="438.3" cy="129.5" r="1.1" fill="#ff5b57"/>
<circle cx="431.6" cy="123.9" r="1.1" fill="#ff5b57"/>
<circle cx="386.9" cy="121.6" r="1.1" fill="#ff5b57"/>
<circle cx="386.1" cy="136.7" r="1.1" fill="#ff5b57"/>
<circle cx="430.1" cy="86.8" r="1.1" fill="#ff5b57"/>
<circle cx="385.3" cy="120.9" r="1.1" fill="#ff5b57"/>
<circle cx="423.7" cy="151.4" r="1.1" fill="#ff5b57"/>
<circle cx="429.8" cy="136.9" r="1.1" fill="#ff5b57"/>
<circle cx="394.4" cy="155.5" r="1.1" fill="#ff5b57"/>
<circle cx="435.0" cy="78.3" r="1.1" fill="#ff5b57"/>
<circle cx="428.8" cy="112.3" r="1.1" fill="#ff5b57"/>
<circle cx="435.3" cy="114.4" r="1.1" fill="#ff5b57"/>
<circle cx="438.0" cy="123.7" r="1.1" fill="#ff5b57"/>
<circle cx="444.0" cy="102.0" r="1.1" fill="#ff5b57"/>
<circle cx="386.6" cy="127.1" r="1.1" fill="#ff5b57"/>
<circle cx="449.3" cy="74.6" r="1.1" fill="#ff5b57"/>
<circle cx="382.1" cy="65.5" r="1.1" fill="#ff5b57"/>
<circle cx="383.9" cy="61.3" r="1.1" fill="#ff5b57"/>
<circle cx="387.1" cy="128.4" r="1.1" fill="#ff5b57"/>
<circle cx="373.7" cy="82.0" r="1.1" fill="#ff5b57"/>
<circle cx="429.6" cy="113.1" r="1.1" fill="#ff5b57"/>
<circle cx="429.0" cy="100.2" r="1.1" fill="#ff5b57"/>
<circle cx="384.5" cy="136.1" r="1.1" fill="#ff5b57"/>
<circle cx="432.6" cy="107.6" r="1.1" fill="#ff5b57"/>
<circle cx="392.7" cy="154.5" r="1.1" fill="#ff5b57"/>
<circle cx="435.8" cy="140.8" r="1.1" fill="#ff5b57"/>
<circle cx="377.0" cy="88.8" r="1.1" fill="#ff5b57"/>
<circle cx="390.2" cy="141.7" r="1.1" fill="#ff5b57"/>
<circle cx="429.8" cy="88.4" r="1.1" fill="#ff5b57"/>
<circle cx="383.0" cy="101.8" r="1.1" fill="#ff5b57"/>
<circle cx="388.0" cy="130.7" r="1.1" fill="#ff5b57"/>
<circle cx="377.9" cy="89.6" r="1.1" fill="#ff5b57"/>
<circle cx="383.6" cy="122.5" r="1.1" fill="#ff5b57"/>
<circle cx="386.7" cy="151.0" r="1.1" fill="#ff5b57"/>
<circle cx="383.2" cy="141.1" r="1.1" fill="#ff5b57"/>
<circle cx="436.3" cy="76.3" r="1.1" fill="#ff5b57"/>
<circle cx="423.7" cy="64.4" r="1.1" fill="#ff5b57"/>
<circle cx="429.7" cy="125.3" r="1.1" fill="#ff5b57"/>
<circle cx="380.2" cy="74.0" r="1.1" fill="#ff5b57"/>
<circle cx="428.4" cy="95.9" r="1.1" fill="#ff5b57"/>
<circle cx="428.0" cy="138.2" r="1.1" fill="#ff5b57"/>
<circle cx="436.9" cy="120.8" r="1.1" fill="#ff5b57"/>
<circle cx="432.3" cy="147.9" r="1.1" fill="#ff5b57"/>
<circle cx="433.4" cy="81.8" r="1.1" fill="#ff5b57"/>
<circle cx="430.6" cy="133.5" r="1.1" fill="#ff5b57"/>
<circle cx="430.1" cy="115.7" r="1.1" fill="#ff5b57"/>
<circle cx="377.7" cy="73.7" r="1.1" fill="#ff5b57"/>
<circle cx="383.8" cy="105.8" r="1.1" fill="#ff5b57"/>
<circle cx="382.1" cy="108.8" r="1.1" fill="#ff5b57"/>
<circle cx="433.4" cy="63.6" r="1.1" fill="#ff5b57"/>
<circle cx="382.1" cy="115.1" r="1.1" fill="#ff5b57"/>
<circle cx="430.6" cy="98.6" r="1.1" fill="#ff5b57"/>
<circle cx="377.4" cy="60.3" r="1.1" fill="#ff5b57"/>
<circle cx="388.2" cy="54.1" r="1.1" fill="#ff5b57"/>
<circle cx="388.8" cy="42.5" r="1.1" fill="#ff5b57"/>
<circle cx="393.9" cy="55.0" r="1.1" fill="#ff5b57"/>
<circle cx="394.2" cy="48.3" r="1.1" fill="#ff5b57"/>
<circle cx="385.3" cy="51.7" r="1.1" fill="#ff5b57"/>
<circle cx="376.7" cy="59.1" r="1.1" fill="#ff5b57"/>
<circle cx="388.0" cy="55.6" r="1.1" fill="#ff5b57"/>
<circle cx="392.5" cy="48.4" r="1.1" fill="#ff5b57"/>
<circle cx="386.9" cy="49.0" r="1.1" fill="#ff5b57"/>
<circle cx="390.8" cy="52.0" r="1.1" fill="#ff5b57"/>
<circle cx="386.3" cy="46.0" r="1.1" fill="#ff5b57"/>
<circle cx="386.6" cy="50.0" r="1.1" fill="#ff5b57"/>
<circle cx="381.6" cy="57.7" r="1.1" fill="#ff5b57"/>
<circle cx="383.8" cy="57.7" r="1.1" fill="#ff5b57"/>
<circle cx="381.2" cy="51.6" r="1.1" fill="#ff5b57"/>
<circle cx="394.7" cy="51.6" r="1.1" fill="#ff5b57"/>
<circle cx="391.2" cy="54.4" r="1.1" fill="#ff5b57"/>
<circle cx="384.6" cy="48.3" r="1.1" fill="#ff5b57"/>
<circle cx="388.5" cy="47.7" r="1.1" fill="#ff5b57"/>
<circle cx="391.1" cy="54.1" r="1.1" fill="#ff5b57"/>
<circle cx="390.5" cy="42.8" r="1.1" fill="#ff5b57"/>
<circle cx="386.5" cy="58.8" r="1.1" fill="#ff5b57"/>
<circle cx="384.4" cy="42.9" r="1.1" fill="#ff5b57"/>
<circle cx="382.8" cy="42.1" r="1.1" fill="#ff5b57"/>
<circle cx="387.7" cy="59.5" r="1.1" fill="#ff5b57"/>
<circle cx="391.1" cy="54.5" r="1.1" fill="#ff5b57"/>
<circle cx="387.7" cy="59.3" r="1.1" fill="#ff5b57"/>
<circle cx="388.0" cy="53.7" r="1.1" fill="#ff5b57"/>
<circle cx="387.4" cy="55.2" r="1.1" fill="#ff5b57"/>
<circle cx="380.1" cy="54.9" r="1.1" fill="#ff5b57"/>
<circle cx="384.8" cy="54.7" r="1.1" fill="#ff5b57"/>
<circle cx="377.9" cy="56.5" r="1.1" fill="#ff5b57"/>
<circle cx="380.5" cy="45.4" r="1.1" fill="#ff5b57"/>
<circle cx="393.6" cy="56.7" r="1.1" fill="#ff5b57"/>
<circle cx="383.1" cy="54.5" r="1.1" fill="#ff5b57"/>
<circle cx="391.1" cy="57.6" r="1.1" fill="#ff5b57"/>
<circle cx="381.0" cy="52.7" r="1.1" fill="#ff5b57"/>
<circle cx="386.1" cy="47.7" r="1.1" fill="#ff5b57"/>
<circle cx="386.2" cy="48.1" r="1.1" fill="#ff5b57"/>
<circle cx="430.2" cy="60.4" r="1.1" fill="#ff5b57"/>
<circle cx="426.0" cy="54.5" r="1.1" fill="#ff5b57"/>
<circle cx="420.9" cy="54.4" r="1.1" fill="#ff5b57"/>
<circle cx="426.1" cy="62.1" r="1.1" fill="#ff5b57"/>
<circle cx="424.6" cy="63.2" r="1.1" fill="#ff5b57"/>
<circle cx="424.0" cy="54.1" r="1.1" fill="#ff5b57"/>
<circle cx="430.3" cy="59.9" r="1.1" fill="#ff5b57"/>
<circle cx="425.0" cy="63.8" r="1.1" fill="#ff5b57"/>
<circle cx="377.3" cy="18.7" r="1.1" fill="#ff5b57"/>
<circle cx="376.4" cy="23.0" r="1.1" fill="#ff5b57"/>
<circle cx="361.7" cy="37.3" r="1.1" fill="#ff5b57"/>
<circle cx="379.4" cy="36.0" r="1.1" fill="#ff5b57"/>
<circle cx="363.8" cy="46.0" r="1.1" fill="#ff5b57"/>
<circle cx="375.9" cy="43.7" r="1.1" fill="#ff5b57"/>
<circle cx="379.9" cy="43.7" r="1.1" fill="#ff5b57"/>
<circle cx="384.2" cy="44.6" r="1.1" fill="#ff5b57"/>
<circle cx="387.7" cy="42.0" r="1.1" fill="#ff5b57"/>
<circle cx="388.6" cy="43.7" r="1.1" fill="#ff5b57"/>
<circle cx="386.0" cy="47.2" r="1.1" fill="#ff5b57"/>
<circle cx="390.3" cy="50.7" r="1.1" fill="#ff5b57"/>
<circle cx="382.5" cy="51.5" r="1.1" fill="#ff5b57"/>
<circle cx="373.0" cy="52.4" r="1.1" fill="#ff5b57"/>
<circle cx="392.0" cy="55.9" r="1.1" fill="#ff5b57"/>
<circle cx="367.8" cy="60.2" r="1.1" fill="#ff5b57"/>
<circle cx="372.1" cy="67.1" r="1.1" fill="#ff5b57"/>
<circle cx="366.9" cy="70.6" r="1.1" fill="#ff5b57"/>
<circle cx="370.4" cy="76.6" r="1.1" fill="#ff5b57"/>
<circle cx="373.8" cy="81.0" r="1.1" fill="#ff5b57"/>
<circle cx="370.4" cy="89.6" r="1.1" fill="#ff5b57"/>
<circle cx="373.0" cy="91.3" r="1.1" fill="#ff5b57"/>
<circle cx="353.1" cy="82.5" r="1.1" fill="#ff5b57"/>
<circle cx="356.3" cy="52.5" r="1.1" fill="#ff5b57"/>
<circle cx="366.9" cy="70.5" r="1.1" fill="#ff5b57"/>
<circle cx="342.5" cy="104.9" r="1.1" fill="#ff5b57"/>
<circle cx="370.0" cy="99.7" r="1.1" fill="#ff5b57"/>
<circle cx="366.4" cy="108.8" r="1.1" fill="#ff5b57"/>
<circle cx="371.1" cy="110.9" r="1.1" fill="#ff5b57"/>
<circle cx="375.3" cy="104.5" r="1.1" fill="#ff5b57"/>
<circle cx="376.4" cy="106.0" r="1.1" fill="#ff5b57"/>
<circle cx="369.0" cy="116.2" r="1.1" fill="#ff5b57"/>
<circle cx="346.8" cy="125.0" r="1.1" fill="#ff5b57"/>
<circle cx="379.6" cy="116.2" r="1.1" fill="#ff5b57"/>
<circle cx="381.7" cy="120.4" r="1.1" fill="#ff5b57"/>
<circle cx="379.6" cy="127.8" r="1.1" fill="#ff5b57"/>
<circle cx="382.7" cy="122.5" r="1.1" fill="#ff5b57"/>
<circle cx="381.7" cy="136.3" r="1.1" fill="#ff5b57"/>
<circle cx="389.1" cy="146.8" r="1.1" fill="#ff5b57"/>
<circle cx="385.9" cy="148.9" r="1.1" fill="#ff5b57"/>
<circle cx="387.0" cy="156.8" r="1.1" fill="#ff5b57"/>
<circle cx="374.7" cy="84.0" r="1.1" fill="#ff5b57"/>
<circle cx="377.0" cy="95.0" r="1.1" fill="#ff5b57"/>
<circle cx="378.5" cy="73.0" r="1.1" fill="#ff5b57"/>
<circle cx="380.0" cy="62.0" r="1.1" fill="#ff5b57"/>
<circle cx="384.0" cy="56.0" r="1.1" fill="#ff5b57"/>
<circle cx="383.0" cy="138.0" r="1.1" fill="#ff5b57"/>
<circle cx="386.0" cy="141.0" r="1.1" fill="#ff5b57"/>
<circle cx="380.5" cy="132.0" r="1.1" fill="#ff5b57"/>
<circle cx="376.0" cy="130.0" r="1.1" fill="#ff5b57"/>
<circle cx="388.0" cy="152.0" r="1.1" fill="#ff5b57"/>
<circle cx="390.0" cy="155.0" r="1.1" fill="#ff5b57"/>
<circle cx="431.8" cy="36.0" r="1.1" fill="#ff5b57"/>
<circle cx="427.5" cy="39.4" r="1.1" fill="#ff5b57"/>
<circle cx="424.9" cy="41.2" r="1.1" fill="#ff5b57"/>
<circle cx="439.6" cy="48.0" r="1.1" fill="#ff5b57"/>
<circle cx="421.4" cy="55.9" r="1.1" fill="#ff5b57"/>
<circle cx="425.8" cy="55.0" r="1.1" fill="#ff5b57"/>
<circle cx="425.8" cy="59.3" r="1.1" fill="#ff5b57"/>
<circle cx="430.1" cy="58.5" r="1.1" fill="#ff5b57"/>
<circle cx="420.6" cy="62.8" r="1.1" fill="#ff5b57"/>
<circle cx="431.0" cy="67.1" r="1.1" fill="#ff5b57"/>
<circle cx="435.3" cy="71.4" r="1.1" fill="#ff5b57"/>
<circle cx="441.3" cy="61.0" r="1.1" fill="#ff5b57"/>
<circle cx="444.8" cy="67.1" r="1.1" fill="#ff5b57"/>
<circle cx="448.3" cy="64.5" r="1.1" fill="#ff5b57"/>
<circle cx="437.0" cy="75.8" r="1.1" fill="#ff5b57"/>
<circle cx="441.3" cy="81.0" r="1.1" fill="#ff5b57"/>
<circle cx="443.1" cy="78.4" r="1.1" fill="#ff5b57"/>
<circle cx="446.5" cy="84.4" r="1.1" fill="#ff5b57"/>
<circle cx="445.7" cy="88.7" r="1.1" fill="#ff5b57"/>
<circle cx="443.1" cy="91.3" r="1.1" fill="#ff5b57"/>
<circle cx="432.0" cy="36.3" r="1.1" fill="#ff5b57"/>
<circle cx="428.0" cy="39.6" r="1.1" fill="#ff5b57"/>
<circle cx="424.8" cy="41.2" r="1.1" fill="#ff5b57"/>
<circle cx="439.2" cy="48.5" r="1.1" fill="#ff5b57"/>
<circle cx="454.6" cy="52.7" r="1.1" fill="#ff5b57"/>
<circle cx="501.7" cy="55.6" r="1.1" fill="#ff5b57"/>
<circle cx="448.8" cy="64.2" r="1.1" fill="#ff5b57"/>
<circle cx="459.4" cy="76.7" r="1.1" fill="#ff5b57"/>
<circle cx="455.6" cy="80.6" r="1.1" fill="#ff5b57"/>
<circle cx="453.7" cy="87.3" r="1.1" fill="#ff5b57"/>
<circle cx="450.8" cy="96.9" r="1.1" fill="#ff5b57"/>
<circle cx="445.0" cy="102.5" r="1.1" fill="#ff5b57"/>
<circle cx="452.0" cy="100.0" r="1.1" fill="#ff5b57"/>
<circle cx="448.0" cy="106.0" r="1.1" fill="#ff5b57"/>
<circle cx="441.0" cy="110.0" r="1.1" fill="#ff5b57"/>
<circle cx="446.0" cy="114.0" r="1.1" fill="#ff5b57"/>
<circle cx="438.0" cy="118.0" r="1.1" fill="#ff5b57"/>
<circle cx="443.0" cy="121.0" r="1.1" fill="#ff5b57"/>
<circle cx="447.0" cy="124.0" r="1.1" fill="#ff5b57"/>
<circle cx="454.0" cy="119.0" r="1.1" fill="#ff5b57"/>
<circle cx="437.0" cy="128.0" r="1.1" fill="#ff5b57"/>
<circle cx="440.0" cy="132.0" r="1.1" fill="#ff5b57"/>
<circle cx="449.0" cy="136.0" r="1.1" fill="#ff5b57"/>
<circle cx="436.0" cy="140.0" r="1.1" fill="#ff5b57"/>
<circle cx="444.0" cy="143.0" r="1.1" fill="#ff5b57"/>
<circle cx="452.0" cy="146.0" r="1.1" fill="#ff5b57"/>
<circle cx="434.0" cy="150.0" r="1.1" fill="#ff5b57"/>
<circle cx="439.0" cy="154.0" r="1.1" fill="#ff5b57"/>
<circle cx="430.6" cy="58.5" r="1.1" fill="#ff5b57"/>
<circle cx="435.4" cy="71.5" r="1.1" fill="#ff5b57"/>
<circle cx="436.3" cy="74.4" r="1.1" fill="#ff5b57"/>
<circle cx="444.0" cy="90.8" r="1.1" fill="#ff5b57"/>
<circle cx="430.6" cy="108.3" r="1.1" fill="#ff5b57"/>
<circle cx="430.6" cy="111.2" r="1.1" fill="#ff5b57"/>
<circle cx="428.7" cy="121.0" r="1.1" fill="#ff5b57"/>
<circle cx="423.0" cy="150.0" r="1.1" fill="#ff5b57"/>
<circle cx="426.0" cy="153.0" r="1.1" fill="#ff5b57"/>
<circle cx="423.0" cy="156.0" r="1.1" fill="#ff5b57"/>
<circle cx="433.0" cy="87.0" r="1.1" fill="#ff5b57"/>
<circle cx="436.0" cy="95.0" r="1.1" fill="#ff5b57"/>
<circle cx="434.0" cy="103.0" r="1.1" fill="#ff5b57"/>
<circle cx="440.0" cy="99.0" r="1.1" fill="#ff5b57"/>
<circle cx="437.0" cy="85.0" r="1.1" fill="#ff5b57"/>
<circle cx="432.0" cy="79.0" r="1.1" fill="#ff5b57"/>
<polygon points="396.2,64.0 396.2,158.6 397.6,165.0 399.4,171.0 401.8,176.5 404.5,181.5 407.4,184.6 410.3,181.5 413.0,176.5 415.4,171.0 417.2,165.0 418.4,158.6 418.4,67.5 417.0,70.0 415.2,76.0 413.6,84.0 412.8,92.0 412.2,105.0 411.4,118.0 410.6,130.0 409.8,142.0 409.2,152.0 408.5,160.0 407.5,172.5 406.5,160.0 405.8,152.0 405.2,142.0 404.4,130.0 403.3,118.0 402.0,105.0 400.7,92.0 399.5,82.0 398.2,73.0 397.0,66.0" fill="#747474"/>
<circle cx="389.5" cy="162.5" r="1.05" fill="#747474"/>
<circle cx="391.0" cy="163.8" r="1.05" fill="#747474"/>
<circle cx="397.5" cy="167.0" r="1.05" fill="#747474"/>
<circle cx="398.0" cy="171.0" r="1.05" fill="#747474"/>
<circle cx="398.3" cy="175.0" r="1.05" fill="#747474"/>
<circle cx="399.5" cy="179.5" r="1.05" fill="#747474"/>
<circle cx="401.0" cy="181.5" r="1.05" fill="#747474"/>
<circle cx="420.0" cy="160.5" r="1.05" fill="#747474"/>
<circle cx="421.5" cy="161.5" r="1.05" fill="#747474"/>
<circle cx="423.0" cy="162.5" r="1.05" fill="#747474"/>
<circle cx="421.8" cy="172.5" r="1.05" fill="#747474"/>
<circle cx="419.2" cy="164.5" r="1.05" fill="#747474"/>
<circle cx="394.5" cy="160.5" r="1.05" fill="#747474"/>
<circle cx="415.3" cy="85.2" r="1.05" fill="#747474"/>
<circle cx="405.1" cy="149.3" r="1.05" fill="#747474"/>
<circle cx="417.8" cy="73.3" r="1.05" fill="#747474"/>
<circle cx="403.3" cy="124.3" r="1.05" fill="#747474"/>
<circle cx="404.5" cy="143.0" r="1.05" fill="#747474"/>
<circle cx="398.6" cy="77.7" r="1.05" fill="#747474"/>
<circle cx="410.8" cy="132.5" r="1.05" fill="#747474"/>
<circle cx="405.0" cy="147.6" r="1.05" fill="#747474"/>
<circle cx="397.9" cy="78.9" r="1.05" fill="#747474"/>
<circle cx="400.4" cy="96.1" r="1.05" fill="#747474"/>
<circle cx="413.0" cy="94.5" r="1.05" fill="#747474"/>
<circle cx="405.3" cy="157.9" r="1.05" fill="#747474"/>
<circle cx="403.5" cy="128.2" r="1.05" fill="#747474"/>
<circle cx="400.2" cy="91.5" r="1.05" fill="#747474"/>
<circle cx="413.6" cy="99.0" r="1.05" fill="#747474"/>
<circle cx="405.5" cy="152.8" r="1.05" fill="#747474"/>
<circle cx="404.9" cy="150.0" r="1.05" fill="#747474"/>
<circle cx="413.0" cy="92.2" r="1.05" fill="#747474"/>
<circle cx="404.9" cy="141.5" r="1.05" fill="#747474"/>
<circle cx="418.7" cy="64.2" r="1.05" fill="#747474"/>
<circle cx="398.2" cy="81.8" r="1.05" fill="#747474"/>
<circle cx="414.6" cy="85.0" r="1.05" fill="#747474"/>
<circle cx="416.0" cy="81.3" r="1.05" fill="#747474"/>
<circle cx="399.2" cy="82.9" r="1.05" fill="#747474"/>
<circle cx="403.2" cy="122.4" r="1.05" fill="#747474"/>
<circle cx="415.5" cy="83.8" r="1.05" fill="#747474"/>
<circle cx="410.2" cy="141.9" r="1.05" fill="#747474"/>
<circle cx="418.0" cy="70.3" r="1.05" fill="#747474"/>
<circle cx="403.6" cy="133.3" r="1.05" fill="#747474"/>
<circle cx="413.6" cy="96.2" r="1.05" fill="#747474"/>
<circle cx="401.5" cy="111.3" r="1.05" fill="#747474"/>
<circle cx="412.2" cy="109.8" r="1.05" fill="#747474"/>
<circle cx="415.5" cy="81.9" r="1.05" fill="#747474"/>
<circle cx="398.3" cy="79.7" r="1.05" fill="#747474"/>
<circle cx="418.6" cy="64.4" r="1.05" fill="#747474"/>
<circle cx="401.9" cy="113.5" r="1.05" fill="#747474"/>
<circle cx="410.3" cy="142.4" r="1.05" fill="#747474"/>
<circle cx="403.6" cy="132.3" r="1.05" fill="#747474"/>
<circle cx="418.6" cy="69.9" r="1.05" fill="#747474"/>
<circle cx="412.4" cy="111.5" r="1.05" fill="#747474"/>
<circle cx="401.8" cy="115.6" r="1.05" fill="#747474"/>
<circle cx="399.5" cy="85.5" r="1.05" fill="#747474"/>
<circle cx="413.9" cy="88.0" r="1.05" fill="#747474"/>
<circle cx="417.2" cy="73.3" r="1.05" fill="#747474"/>
<circle cx="418.8" cy="65.7" r="1.05" fill="#747474"/>
<circle cx="411.8" cy="114.2" r="1.05" fill="#747474"/>
<circle cx="409.6" cy="147.5" r="1.05" fill="#747474"/>
<circle cx="397.9" cy="75.8" r="1.05" fill="#747474"/>
<circle cx="399.9" cy="90.8" r="1.05" fill="#747474"/>
<circle cx="417.0" cy="77.1" r="1.05" fill="#747474"/>
<circle cx="416.7" cy="78.1" r="1.05" fill="#747474"/>
<circle cx="416.5" cy="79.8" r="1.05" fill="#747474"/>
<circle cx="400.6" cy="101.3" r="1.05" fill="#747474"/>
<circle cx="401.7" cy="114.5" r="1.05" fill="#747474"/>
<circle cx="404.6" cy="138.6" r="1.05" fill="#747474"/>
<circle cx="399.9" cy="96.2" r="1.05" fill="#747474"/>
<circle cx="410.8" cy="141.2" r="1.05" fill="#747474"/>
<circle cx="404.8" cy="145.4" r="1.05" fill="#747474"/>
<circle cx="409.2" cy="156.0" r="1.05" fill="#747474"/>
<circle cx="412.6" cy="104.5" r="1.05" fill="#747474"/>
<circle cx="396.2" cy="107.8" r="1.05" fill="#747474"/>
<circle cx="395.9" cy="105.4" r="1.05" fill="#747474"/>
<circle cx="417.9" cy="147.3" r="1.05" fill="#747474"/>
<circle cx="417.9" cy="117.0" r="1.05" fill="#747474"/>
<circle cx="396.4" cy="139.6" r="1.05" fill="#747474"/>
<circle cx="418.6" cy="83.9" r="1.05" fill="#747474"/>
<circle cx="418.2" cy="108.8" r="1.05" fill="#747474"/>
<circle cx="418.4" cy="82.6" r="1.05" fill="#747474"/>
<circle cx="396.0" cy="145.6" r="1.05" fill="#747474"/>
<circle cx="396.4" cy="118.3" r="1.05" fill="#747474"/>
<circle cx="418.6" cy="146.0" r="1.05" fill="#747474"/>
<circle cx="418.7" cy="102.0" r="1.05" fill="#747474"/>
</g>
<line x1="396.0" y1="11.7" x2="396.0" y2="190" stroke="#333" stroke-width="1.3" stroke-dasharray="1.4 2.32"/>
<line x1="418.6" y1="11.7" x2="418.6" y2="190" stroke="#333" stroke-width="1.3" stroke-dasharray="1.4 2.32"/>
<line x1="301.5" y1="158.6" x2="514" y2="158.6" stroke="#333" stroke-width="1.3" stroke-dasharray="1.4 2.32"/>
<line x1="300.75" y1="12.00" x2="300.75" y2="190.70" stroke="#111" stroke-width="1"/>
<line x1="300.25" y1="190.20" x2="514.00" y2="190.20" stroke="#111" stroke-width="1"/>
<line x1="298.30" y1="182.40" x2="300.75" y2="182.40" stroke="#111" stroke-width="1"/>
<text x="295.30" y="185.20" font-size="7.8" text-anchor="end">0</text>
<line x1="298.30" y1="145.96" x2="300.75" y2="145.96" stroke="#111" stroke-width="1"/>
<text x="295.30" y="148.76" font-size="7.8" text-anchor="end">2</text>
<line x1="298.30" y1="109.52" x2="300.75" y2="109.52" stroke="#111" stroke-width="1"/>
<text x="295.30" y="112.32" font-size="7.8" text-anchor="end">4</text>
<line x1="298.30" y1="73.08" x2="300.75" y2="73.08" stroke="#111" stroke-width="1"/>
<text x="295.30" y="75.88" font-size="7.8" text-anchor="end">6</text>
<line x1="298.30" y1="36.64" x2="300.75" y2="36.64" stroke="#111" stroke-width="1"/>
<text x="295.30" y="39.44" font-size="7.8" text-anchor="end">8</text>
<line x1="310.60" y1="190.20" x2="310.60" y2="192.80" stroke="#111" stroke-width="1"/>
<text x="310.60" y="201.20" font-size="7.6" text-anchor="middle">−5</text>
<line x1="330.00" y1="190.20" x2="330.00" y2="192.80" stroke="#111" stroke-width="1"/>
<text x="330.00" y="201.20" font-size="7.6" text-anchor="middle">−4</text>
<line x1="349.40" y1="190.20" x2="349.40" y2="192.80" stroke="#111" stroke-width="1"/>
<text x="349.40" y="201.20" font-size="7.6" text-anchor="middle">−3</text>
<line x1="368.80" y1="190.20" x2="368.80" y2="192.80" stroke="#111" stroke-width="1"/>
<text x="368.80" y="201.20" font-size="7.6" text-anchor="middle">−2</text>
<line x1="388.20" y1="190.20" x2="388.20" y2="192.80" stroke="#111" stroke-width="1"/>
<text x="388.20" y="201.20" font-size="7.6" text-anchor="middle">−1</text>
<line x1="407.60" y1="190.20" x2="407.60" y2="192.80" stroke="#111" stroke-width="1"/>
<text x="407.60" y="201.20" font-size="7.6" text-anchor="middle">0</text>
<line x1="427.00" y1="190.20" x2="427.00" y2="192.80" stroke="#111" stroke-width="1"/>
<text x="427.00" y="201.20" font-size="7.6" text-anchor="middle">1</text>
<line x1="446.40" y1="190.20" x2="446.40" y2="192.80" stroke="#111" stroke-width="1"/>
<text x="446.40" y="201.20" font-size="7.6" text-anchor="middle">2</text>
<line x1="465.80" y1="190.20" x2="465.80" y2="192.80" stroke="#111" stroke-width="1"/>
<text x="465.80" y="201.20" font-size="7.6" text-anchor="middle">3</text>
<line x1="485.20" y1="190.20" x2="485.20" y2="192.80" stroke="#111" stroke-width="1"/>
<text x="485.20" y="201.20" font-size="7.6" text-anchor="middle">4</text>
<line x1="504.60" y1="190.20" x2="504.60" y2="192.80" stroke="#111" stroke-width="1"/>
<text x="504.60" y="201.20" font-size="7.6" text-anchor="middle">5</text>
<text x="283.00" y="100.50" font-size="8.6" text-anchor="middle" textLength="37" lengthAdjust="spacingAndGlyphs" transform="rotate(-90 283.0 100.5)" style="stroke-width:0.3px">-log10 (pval)</text>
<text x="407.60" y="213.30" font-size="9.0" text-anchor="middle" textLength="52.5" lengthAdjust="spacingAndGlyphs" style="stroke-width:0.3px">Log2 (fold change)</text>
<line x1="326.70" y1="34.50" x2="387.00" y2="46.60" stroke="#333" stroke-width="0.8"/>
<text x="302.60" y="36.95" font-size="6.9">TEAD1</text>
<line x1="329.80" y1="43.40" x2="356.30" y2="52.50" stroke="#333" stroke-width="0.8"/>
<text x="302.60" y="45.85" font-size="6.9">CYP1B1</text>
<line x1="319.30" y1="52.10" x2="380.60" y2="55.30" stroke="#333" stroke-width="0.8"/>
<text x="302.60" y="54.55" font-size="6.9">MYC</text>
<line x1="326.70" y1="61.00" x2="382.20" y2="55.20" stroke="#333" stroke-width="0.8"/>
<text x="302.60" y="63.45" font-size="6.9">IL31RA</text>
<line x1="322.40" y1="69.80" x2="388.00" y2="58.80" stroke="#333" stroke-width="0.8"/>
<text x="302.60" y="72.25" font-size="6.9">CDK6</text>
<line x1="335.10" y1="78.90" x2="366.90" y2="70.50" stroke="#333" stroke-width="0.8"/>
<text x="302.60" y="81.35" font-size="6.9">TNFRSF8</text>
<line x1="328.80" y1="88.00" x2="392.30" y2="83.20" stroke="#333" stroke-width="0.8"/>
<text x="302.60" y="90.45" font-size="6.9">CCNE2</text>
<line x1="323.50" y1="109.80" x2="393.30" y2="114.00" stroke="#333" stroke-width="0.8"/>
<text x="302.60" y="112.25" font-size="6.9">CDK4</text>
<line x1="326.70" y1="118.90" x2="390.10" y2="121.40" stroke="#333" stroke-width="0.8"/>
<text x="302.60" y="121.35" font-size="6.9">BATF3</text>
<line x1="329.80" y1="127.80" x2="395.40" y2="127.20" stroke="#333" stroke-width="0.8"/>
<text x="302.60" y="130.25" font-size="6.9">PIK3CB</text>
<line x1="328.80" y1="136.90" x2="391.20" y2="133.10" stroke="#333" stroke-width="0.8"/>
<text x="302.60" y="139.35" font-size="6.9">CCND2</text>
<line x1="329.80" y1="145.80" x2="400.80" y2="142.80" stroke="#333" stroke-width="0.8"/>
<text x="302.60" y="148.25" font-size="6.9">PIK3CD</text>
<line x1="322.40" y1="154.90" x2="393.30" y2="154.70" stroke="#333" stroke-width="0.8"/>
<text x="302.60" y="157.35" font-size="6.9">IL2RB</text>
<text x="511.90" y="53.25" font-size="6.9" text-anchor="end">TSC22D3</text>
<line x1="492.10" y1="61.00" x2="430.60" y2="58.50" stroke="#333" stroke-width="0.8"/>
<text x="511.90" y="63.45" font-size="6.9" text-anchor="end">JUND</text>
<line x1="488.30" y1="70.40" x2="435.40" y2="71.50" stroke="#333" stroke-width="0.8"/>
<text x="511.90" y="72.85" font-size="6.9" text-anchor="end">IL10RB</text>
<line x1="496.90" y1="78.70" x2="436.30" y2="74.40" stroke="#333" stroke-width="0.8"/>
<text x="511.90" y="81.15" font-size="6.9" text-anchor="end">IRF7</text>
<line x1="489.20" y1="88.30" x2="444.00" y2="90.80" stroke="#333" stroke-width="0.8"/>
<text x="511.90" y="90.75" font-size="6.9" text-anchor="end">CTLA4</text>
<line x1="486.30" y1="97.70" x2="445.00" y2="102.50" stroke="#333" stroke-width="0.8"/>
<text x="511.90" y="100.15" font-size="6.9" text-anchor="end">PIK3IP1</text>
<line x1="489.20" y1="106.30" x2="430.60" y2="108.30" stroke="#333" stroke-width="0.8"/>
<text x="511.90" y="108.75" font-size="6.9" text-anchor="end">TP53I3</text>
<line x1="485.40" y1="115.00" x2="430.60" y2="111.20" stroke="#333" stroke-width="0.8"/>
<text x="511.90" y="117.45" font-size="6.9" text-anchor="end">CCNG2</text>
<line x1="483.50" y1="124.60" x2="419.20" y2="115.80" stroke="#333" stroke-width="0.8"/>
<text x="511.90" y="127.05" font-size="6.9" text-anchor="end">CDKN2A</text>
<line x1="488.30" y1="133.80" x2="428.70" y2="121.00" stroke="#333" stroke-width="0.8"/>
<text x="511.90" y="136.25" font-size="6.9" text-anchor="end">CASP8</text>
<line x1="483.50" y1="142.90" x2="414.50" y2="144.20" stroke="#333" stroke-width="0.8"/>
<text x="511.90" y="145.35" font-size="6.9" text-anchor="end">CDKN1B</text>
<line x1="494.00" y1="151.90" x2="412.40" y2="146.30" stroke="#333" stroke-width="0.8"/>
<text x="511.90" y="154.35" font-size="6.9" text-anchor="end">RELA</text>
<line x1="486.30" y1="162.70" x2="416.00" y2="149.50" stroke="#333" stroke-width="0.8"/>
<text x="511.90" y="165.15" font-size="6.9" text-anchor="end">PIK3CG</text>
<line x1="494.00" y1="170.40" x2="415.50" y2="154.70" stroke="#333" stroke-width="0.8"/>
<text x="511.90" y="172.85" font-size="6.9" text-anchor="end">PTEN</text>
<g stroke-linecap="round">
<line x1="49.70" y1="36.90" x2="51.00" y2="74.00" stroke="#d3d3d3" stroke-width="0.6"/>
<line x1="68.97" y1="29.14" x2="69.92" y2="63.76" stroke="#d3d3d3" stroke-width="0.6"/>
<line x1="84.42" y1="22.92" x2="85.09" y2="55.55" stroke="#d3d3d3" stroke-width="0.6"/>
<line x1="98.18" y1="17.38" x2="98.60" y2="48.24" stroke="#d3d3d3" stroke-width="0.6"/>
<line x1="110.30" y1="12.50" x2="110.50" y2="41.80" stroke="#d3d3d3" stroke-width="0.6"/>
<line x1="49.70" y1="36.90" x2="110.30" y2="12.50" stroke="#d3d3d3" stroke-width="0.6"/>
<line x1="49.92" y1="43.08" x2="110.33" y2="17.38" stroke="#d3d3d3" stroke-width="0.6"/>
<line x1="50.13" y1="49.27" x2="110.37" y2="22.27" stroke="#d3d3d3" stroke-width="0.6"/>
<line x1="50.35" y1="55.45" x2="110.40" y2="27.15" stroke="#d3d3d3" stroke-width="0.6"/>
<line x1="50.57" y1="61.63" x2="110.43" y2="32.03" stroke="#d3d3d3" stroke-width="0.6"/>
<line x1="50.78" y1="67.82" x2="110.47" y2="36.92" stroke="#d3d3d3" stroke-width="0.6"/>
<line x1="51.00" y1="74.00" x2="110.50" y2="41.80" stroke="#d3d3d3" stroke-width="0.6"/>
<line x1="110.30" y1="12.50" x2="110.50" y2="41.80" stroke="#d3d3d3" stroke-width="0.6"/>
<line x1="115.42" y1="14.40" x2="115.22" y2="44.08" stroke="#d3d3d3" stroke-width="0.6"/>
<line x1="120.54" y1="16.30" x2="119.94" y2="46.36" stroke="#d3d3d3" stroke-width="0.6"/>
<line x1="125.66" y1="18.20" x2="124.66" y2="48.64" stroke="#d3d3d3" stroke-width="0.6"/>
<line x1="130.78" y1="20.10" x2="129.38" y2="50.92" stroke="#d3d3d3" stroke-width="0.6"/>
<line x1="135.90" y1="22.00" x2="134.10" y2="53.20" stroke="#d3d3d3" stroke-width="0.6"/>
<line x1="141.02" y1="23.90" x2="138.82" y2="55.48" stroke="#d3d3d3" stroke-width="0.6"/>
<line x1="146.14" y1="25.80" x2="143.54" y2="57.76" stroke="#d3d3d3" stroke-width="0.6"/>
<line x1="151.26" y1="27.70" x2="148.26" y2="60.04" stroke="#d3d3d3" stroke-width="0.6"/>
<line x1="156.38" y1="29.60" x2="152.98" y2="62.32" stroke="#d3d3d3" stroke-width="0.6"/>
<line x1="161.50" y1="31.50" x2="157.70" y2="64.60" stroke="#d3d3d3" stroke-width="0.6"/>
<line x1="110.30" y1="12.50" x2="161.50" y2="31.50" stroke="#d3d3d3" stroke-width="0.6"/>
<line x1="110.33" y1="17.38" x2="160.87" y2="37.02" stroke="#d3d3d3" stroke-width="0.6"/>
<line x1="110.37" y1="22.27" x2="160.23" y2="42.53" stroke="#d3d3d3" stroke-width="0.6"/>
<line x1="110.40" y1="27.15" x2="159.60" y2="48.05" stroke="#d3d3d3" stroke-width="0.6"/>
<line x1="110.43" y1="32.03" x2="158.97" y2="53.57" stroke="#d3d3d3" stroke-width="0.6"/>
<line x1="110.47" y1="36.92" x2="158.33" y2="59.08" stroke="#d3d3d3" stroke-width="0.6"/>
<line x1="110.50" y1="41.80" x2="157.70" y2="64.60" stroke="#d3d3d3" stroke-width="0.6"/>
<line x1="110.50" y1="41.80" x2="51.00" y2="74.00" stroke="#d3d3d3" stroke-width="0.6"/>
<line x1="115.22" y1="44.08" x2="56.20" y2="77.45" stroke="#d3d3d3" stroke-width="0.6"/>
<line x1="119.94" y1="46.36" x2="61.40" y2="80.90" stroke="#d3d3d3" stroke-width="0.6"/>
<line x1="124.66" y1="48.64" x2="66.60" y2="84.35" stroke="#d3d3d3" stroke-width="0.6"/>
<line x1="129.38" y1="50.92" x2="71.80" y2="87.80" stroke="#d3d3d3" stroke-width="0.6"/>
<line x1="134.10" y1="53.20" x2="77.00" y2="91.25" stroke="#d3d3d3" stroke-width="0.6"/>
<line x1="138.82" y1="55.48" x2="82.20" y2="94.70" stroke="#d3d3d3" stroke-width="0.6"/>
<line x1="143.54" y1="57.76" x2="87.40" y2="98.15" stroke="#d3d3d3" stroke-width="0.6"/>
<line x1="148.26" y1="60.04" x2="92.60" y2="101.60" stroke="#d3d3d3" stroke-width="0.6"/>
<line x1="152.98" y1="62.32" x2="97.80" y2="105.05" stroke="#d3d3d3" stroke-width="0.6"/>
<line x1="157.70" y1="64.60" x2="103.00" y2="108.50" stroke="#d3d3d3" stroke-width="0.6"/>
<line x1="110.50" y1="41.80" x2="157.70" y2="64.60" stroke="#d3d3d3" stroke-width="0.6"/>
<line x1="103.06" y1="45.82" x2="150.86" y2="70.09" stroke="#d3d3d3" stroke-width="0.6"/>
<line x1="95.62" y1="49.85" x2="144.02" y2="75.57" stroke="#d3d3d3" stroke-width="0.6"/>
<line x1="88.19" y1="53.88" x2="137.19" y2="81.06" stroke="#d3d3d3" stroke-width="0.6"/>
<line x1="80.75" y1="57.90" x2="130.35" y2="86.55" stroke="#d3d3d3" stroke-width="0.6"/>
<line x1="73.31" y1="61.92" x2="123.51" y2="92.04" stroke="#d3d3d3" stroke-width="0.6"/>
<line x1="65.88" y1="65.95" x2="116.67" y2="97.53" stroke="#d3d3d3" stroke-width="0.6"/>
<line x1="58.44" y1="69.97" x2="109.84" y2="103.01" stroke="#d3d3d3" stroke-width="0.6"/>
<line x1="51.00" y1="74.00" x2="103.00" y2="108.50" stroke="#d3d3d3" stroke-width="0.6"/>
</g>
<ellipse cx="83.9" cy="75.2" rx="40.0" ry="12.9" transform="rotate(58.6 83.9 75.2)" fill="none" stroke="#c8102e" stroke-width="1.6"/>
<ellipse cx="127.9" cy="43.5" rx="10.1" ry="19.9" fill="none" stroke="#124a86" stroke-width="1.3"/>
<circle cx="63.8" cy="53.3" r="2.5" fill="#c8102e"/>
<circle cx="77.7" cy="49.6" r="2.5" fill="#c8102e"/>
<circle cx="75.0" cy="63.8" r="2.5" fill="#c8102e"/>
<circle cx="102.1" cy="106.0" r="2.5" fill="#c8102e"/>
<circle cx="121.3" cy="39.8" r="2.5" fill="#124a86"/>
<circle cx="124.4" cy="44.5" r="2.5" fill="#124a86"/>
<circle cx="124.7" cy="53.0" r="2.5" fill="#124a86"/>
<circle cx="134.7" cy="35.4" r="2.5" fill="#124a86"/>
<circle cx="168.9" cy="35.1" r="2.5" fill="#c8102e"/>
<circle cx="168.9" cy="45.1" r="2.5" fill="#124a86"/>
<text x="175.00" y="37.60" font-size="7.0">Vehicle</text>
<text x="175.00" y="47.60" font-size="7.0">Triple</text>
<text x="155.80" y="69.60" font-size="7.8" transform="rotate(33 155.8 69.6)">−100</text>
<text x="146.40" y="79.40" font-size="7.8" transform="rotate(36 146.4 79.4)">−50</text>
<text x="132.90" y="89.60" font-size="7.8" transform="rotate(38 132.9 89.6)">0</text>
<text x="118.70" y="100.00" font-size="7.8" transform="rotate(38 118.7 100.0)">50</text>
<text x="104.00" y="115.00" font-size="7.8" transform="rotate(37 104.0 115.0)">100</text>
<text x="151.50" y="104.60" font-size="9.8" text-anchor="middle" textLength="37.0" lengthAdjust="spacingAndGlyphs" transform="rotate(-42 151.5 104.6)" dominant-baseline="central" style="stroke-width:0.35px">PC1 (52.5%)</text>
<text x="54.40" y="106.80" font-size="9.8" text-anchor="middle" textLength="37.5" lengthAdjust="spacingAndGlyphs" transform="rotate(48.5 54.4 106.8)" dominant-baseline="central" style="stroke-width:0.35px">PC2 (23.36%)</text>
<text x="31.90" y="61.60" font-size="10.0" text-anchor="middle" textLength="35.6" lengthAdjust="spacingAndGlyphs" transform="rotate(90 31.9 61.6)" dominant-baseline="central" style="stroke-width:0.35px">PC3 (7.29%)</text>
<text x="46.20" y="42.60" font-size="7.6" text-anchor="end" textLength="8.0" lengthAdjust="spacingAndGlyphs" transform="rotate(-18 46.2 42.6)">60</text>
<text x="48.00" y="49.60" font-size="7.6" text-anchor="end" textLength="8.0" lengthAdjust="spacingAndGlyphs" transform="rotate(-18 48.0 49.6)">40</text>
<text x="49.20" y="56.80" font-size="7.6" text-anchor="end" textLength="8.0" lengthAdjust="spacingAndGlyphs" transform="rotate(-18 49.2 56.8)">20</text>
<text x="51.20" y="61.95" font-size="7.8" text-anchor="end" transform="rotate(-45 51.2 61.95)">0</text>
<text x="53.40" y="66.05" font-size="7.8" text-anchor="end" transform="rotate(-45 53.4 66.05)">−20</text>
<text x="55.90" y="70.55" font-size="7.8" text-anchor="end" transform="rotate(-45 55.9 70.55)">−100</text>
<text x="58.80" y="74.95" font-size="7.8" text-anchor="end" transform="rotate(-45 58.8 74.95)">−80</text>
<text x="61.90" y="78.95" font-size="7.8" text-anchor="end" transform="rotate(-45 61.9 78.95)">−60</text>
<text x="64.90" y="82.85" font-size="7.8" text-anchor="end" transform="rotate(-45 64.9 82.85000000000001)">−40</text>
<text x="67.90" y="87.05" font-size="7.8" text-anchor="end" transform="rotate(-45 67.9 87.05)">−20</text>
<text x="70.90" y="90.95" font-size="7.8" text-anchor="end" transform="rotate(-45 70.9 90.95)">0</text>
<text x="77.20" y="94.65" font-size="7.8" text-anchor="end" transform="rotate(-45 77.2 94.65)">20</text>
<text x="82.00" y="99.05" font-size="7.8" text-anchor="end" transform="rotate(-45 82.0 99.05)">40</text>
<text x="88.50" y="104.55" font-size="7.8" text-anchor="end" transform="rotate(-45 88.5 104.55)">60</text>
<text x="95.00" y="110.45" font-size="7.8" text-anchor="end" transform="rotate(-45 95.0 110.45)">80</text>
<text x="101.50" y="115.95" font-size="7.8" text-anchor="end" transform="rotate(-45 101.5 115.95)">100</text>
</svg>
</body></html>
